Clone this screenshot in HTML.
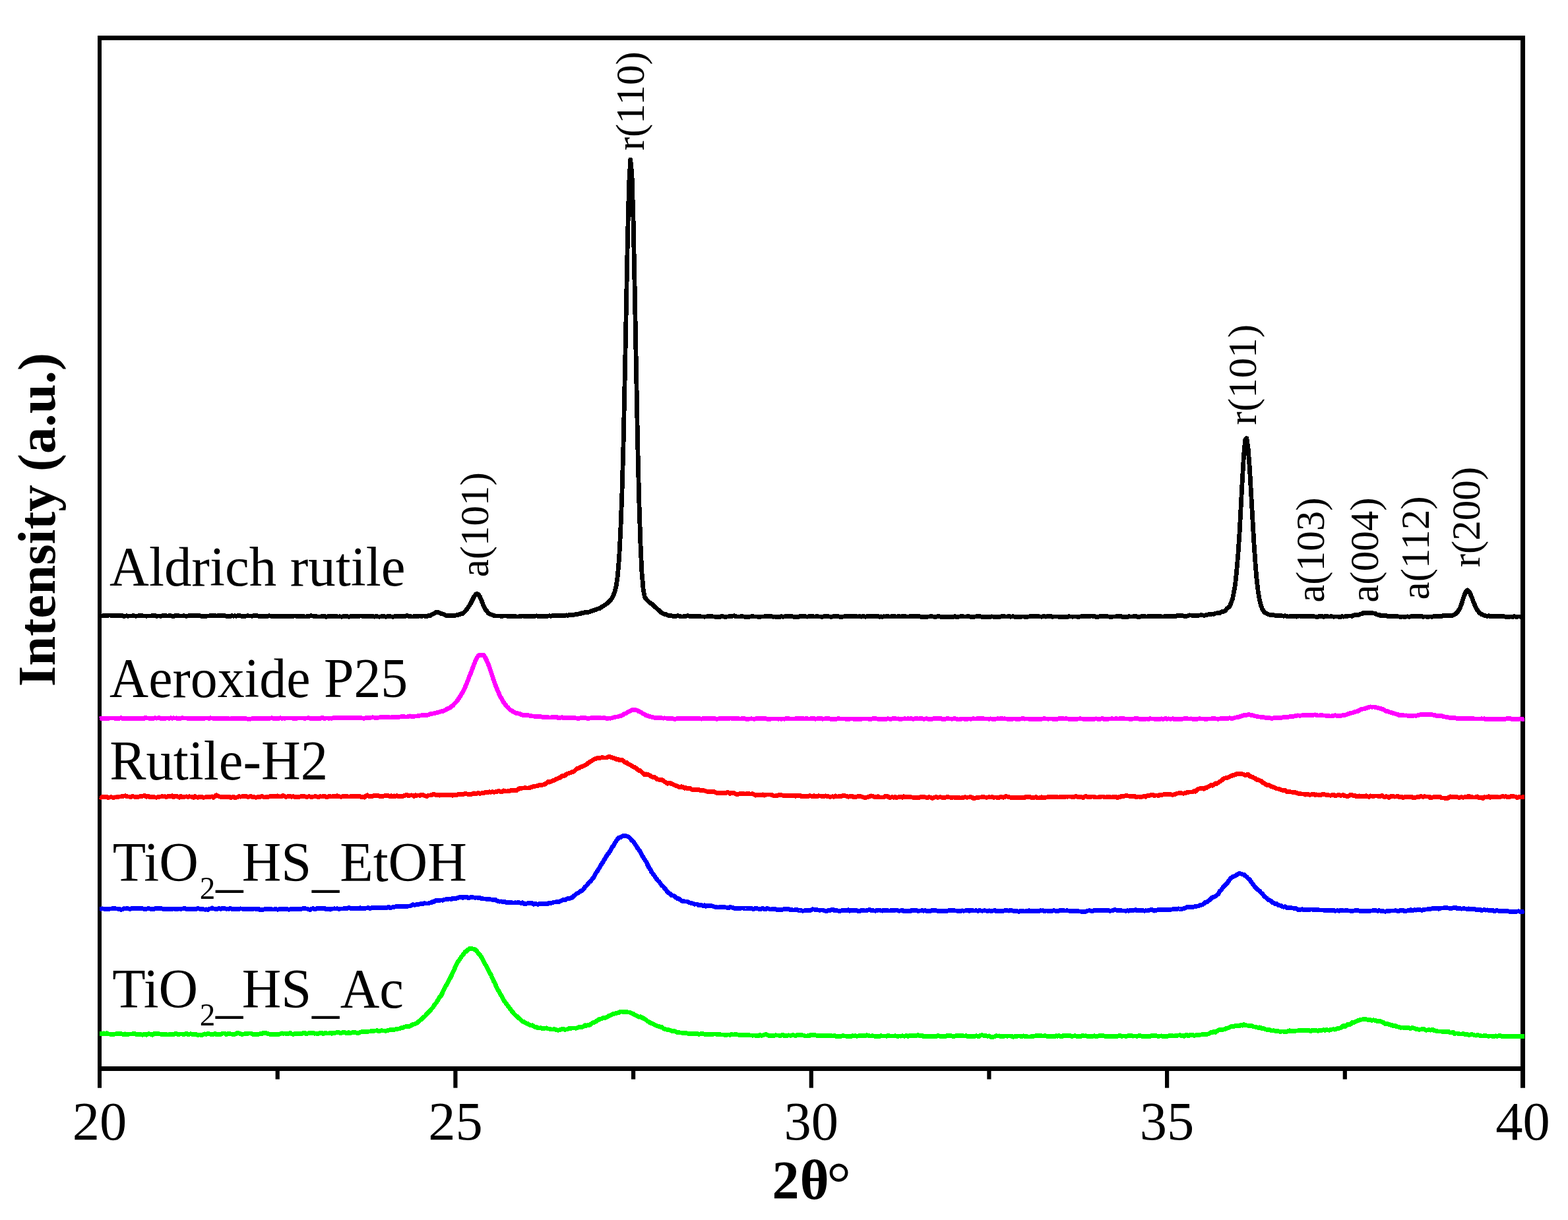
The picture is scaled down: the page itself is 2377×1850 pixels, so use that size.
<!DOCTYPE html>
<html lang="en"><head><meta charset="utf-8"><title>XRD patterns</title>
<style>
html,body{margin:0;padding:0;background:#fff;}
body{width:2377px;height:1850px;overflow:hidden;}
svg{display:block;}
text{font-family:"Liberation Serif",serif;fill:#000;}
.lab{font-size:84px;}
.tick{font-size:82.5px;text-anchor:middle;}
.pk{font-size:61px;}
.ax{font-weight:bold;}
</style></head><body>
<svg width="2377" height="1850" viewBox="0 0 2377 1850">
<rect width="2377" height="1850" fill="#fff"/>
<g stroke="#000" fill="none" stroke-linecap="butt">
<line x1="151" y1="54" x2="151" y2="1649.7" stroke-width="6"/>
<line x1="2308.5" y1="54" x2="2308.5" y2="1649.7" stroke-width="7"/>
<line x1="148" y1="57.5" x2="2312" y2="57.5" stroke-width="7"/>
<line x1="148" y1="1620.5" x2="2312" y2="1620.5" stroke-width="7"/>
<line x1="690.4" y1="1620.5" x2="690.4" y2="1649.7" stroke-width="6.2"/>
<line x1="1229.8" y1="1620.5" x2="1229.8" y2="1649.7" stroke-width="6.2"/>
<line x1="1769.1" y1="1620.5" x2="1769.1" y2="1649.7" stroke-width="6.2"/>
<line x1="420.7" y1="1620.5" x2="420.7" y2="1636.6" stroke-width="6.2"/>
<line x1="960.1" y1="1620.5" x2="960.1" y2="1636.6" stroke-width="6.2"/>
<line x1="1499.4" y1="1620.5" x2="1499.4" y2="1636.6" stroke-width="6.2"/>
<line x1="2038.8" y1="1620.5" x2="2038.8" y2="1636.6" stroke-width="6.2"/>
</g>
<g fill="none" stroke-width="6.8" stroke-linejoin="round" stroke-linecap="butt" shape-rendering="crispEdges" transform="scale(1.00,1)">
<path stroke="#00ff00" d="M151.0,1567.5 L153.2,1567.2 L155.3,1568.0 L157.5,1566.9 L159.6,1567.5 L161.8,1566.7 L163.9,1568.0 L166.1,1568.1 L168.3,1568.8 L170.4,1568.1 L172.6,1568.3 L174.7,1568.0 L176.9,1567.7 L179.0,1568.0 L181.2,1567.4 L183.4,1567.6 L185.5,1568.2 L187.7,1568.2 L189.8,1567.9 L192.0,1569.1 L194.2,1568.6 L196.3,1568.0 L198.5,1568.1 L200.6,1567.9 L202.8,1567.8 L204.9,1567.8 L207.1,1569.0 L209.3,1568.5 L211.4,1568.4 L213.6,1568.5 L215.7,1569.3 L217.9,1568.5 L220.0,1568.0 L222.2,1569.3 L224.4,1567.9 L226.5,1567.8 L228.7,1568.3 L230.8,1569.3 L233.0,1568.2 L235.1,1566.9 L237.3,1567.9 L239.5,1567.8 L241.6,1567.8 L243.8,1568.2 L245.9,1568.2 L248.1,1568.3 L250.2,1568.0 L252.4,1568.7 L254.6,1569.1 L256.7,1568.6 L258.9,1568.1 L261.0,1568.5 L263.2,1568.5 L265.3,1567.8 L267.5,1567.7 L269.7,1568.4 L271.8,1568.2 L274.0,1568.0 L276.1,1568.1 L278.3,1568.1 L280.5,1568.1 L282.6,1567.1 L284.8,1568.5 L286.9,1568.4 L289.1,1567.8 L291.2,1568.4 L293.4,1568.4 L295.6,1568.2 L297.7,1568.7 L299.9,1569.4 L302.0,1569.0 L304.2,1569.2 L306.3,1569.7 L308.5,1568.3 L310.7,1567.9 L312.8,1568.4 L315.0,1567.3 L317.1,1567.6 L319.3,1568.5 L321.4,1568.7 L323.6,1568.6 L325.8,1567.4 L327.9,1568.9 L330.1,1568.7 L332.2,1568.7 L334.4,1568.6 L336.5,1567.4 L338.7,1567.0 L340.9,1567.0 L343.0,1568.5 L345.2,1567.8 L347.3,1567.8 L349.5,1567.8 L351.6,1568.2 L353.8,1568.3 L356.0,1568.2 L358.1,1567.5 L360.3,1566.2 L362.4,1567.2 L364.6,1567.7 L366.8,1568.4 L368.9,1568.1 L371.1,1567.7 L373.2,1568.0 L375.4,1567.2 L377.5,1567.0 L379.7,1567.0 L381.9,1567.6 L384.0,1568.8 L386.2,1568.6 L388.3,1568.7 L390.5,1568.3 L392.6,1568.2 L394.8,1567.7 L397.0,1567.6 L399.1,1566.5 L401.3,1566.6 L403.4,1566.6 L405.6,1567.6 L407.7,1568.0 L409.9,1568.4 L412.1,1568.8 L414.2,1568.0 L416.4,1568.3 L418.5,1568.9 L420.7,1568.2 L422.8,1568.4 L425.0,1567.9 L427.2,1566.9 L429.3,1567.3 L431.5,1567.0 L433.6,1567.4 L435.8,1567.2 L437.9,1567.5 L440.1,1566.4 L442.3,1568.0 L444.4,1568.4 L446.6,1567.7 L448.7,1567.1 L450.9,1567.2 L453.1,1567.6 L455.2,1567.7 L457.4,1567.6 L459.5,1566.5 L461.7,1566.3 L463.8,1567.5 L466.0,1567.4 L468.2,1566.5 L470.3,1566.4 L472.5,1566.1 L474.6,1566.1 L476.8,1567.2 L478.9,1567.0 L481.1,1567.5 L483.3,1567.3 L485.4,1566.3 L487.6,1566.3 L489.7,1567.7 L491.9,1566.8 L494.0,1566.2 L496.2,1567.1 L498.4,1566.9 L500.5,1566.7 L502.7,1567.3 L504.8,1566.0 L507.0,1566.4 L509.1,1565.9 L511.3,1565.4 L513.5,1565.5 L515.6,1566.5 L517.8,1566.2 L519.9,1565.2 L522.1,1565.1 L524.2,1566.3 L526.4,1566.6 L528.6,1565.6 L530.7,1566.9 L532.9,1566.0 L535.0,1565.2 L537.2,1565.3 L539.4,1565.8 L541.5,1566.4 L543.7,1566.3 L545.8,1565.4 L548.0,1564.9 L550.1,1564.2 L552.3,1564.5 L554.5,1564.3 L556.6,1564.6 L558.8,1563.9 L560.9,1563.9 L563.1,1563.6 L565.2,1563.3 L567.4,1563.1 L569.6,1563.0 L571.7,1562.7 L573.9,1563.4 L576.0,1563.4 L578.2,1562.6 L580.3,1563.0 L582.5,1563.0 L584.7,1563.5 L586.8,1562.7 L589.0,1562.2 L591.1,1561.6 L593.3,1561.6 L595.4,1561.6 L597.6,1561.3 L599.8,1560.7 L601.9,1560.6 L604.1,1560.1 L606.2,1559.7 L608.4,1558.7 L610.5,1558.5 L612.7,1557.5 L614.9,1556.8 L617.0,1556.5 L619.2,1557.0 L621.3,1556.2 L623.5,1554.8 L625.7,1553.6 L627.8,1553.0 L630.0,1552.3 L632.1,1551.2 L634.3,1549.2 L636.4,1547.6 L638.6,1545.8 L640.8,1544.0 L642.9,1541.8 L645.1,1540.0 L647.2,1537.1 L649.4,1534.9 L651.5,1533.3 L653.7,1530.5 L655.9,1528.3 L658.0,1524.8 L660.2,1521.9 L662.3,1519.2 L664.5,1515.3 L666.6,1511.7 L668.8,1509.6 L671.0,1504.9 L673.1,1500.5 L675.3,1496.3 L677.4,1492.4 L679.6,1488.2 L681.7,1484.5 L683.9,1480.3 L686.1,1475.4 L688.2,1470.9 L690.4,1466.0 L692.5,1461.5 L694.7,1457.8 L696.8,1454.9 L699.0,1451.5 L701.2,1448.6 L703.3,1446.0 L705.5,1443.2 L707.6,1442.2 L709.8,1439.8 L712.0,1438.4 L714.1,1437.9 L716.3,1438.8 L718.4,1439.3 L720.6,1440.1 L722.7,1442.3 L724.9,1445.2 L727.1,1447.5 L729.2,1450.4 L731.4,1454.5 L733.5,1458.5 L735.7,1462.5 L737.8,1465.9 L740.0,1470.4 L742.2,1474.9 L744.3,1478.3 L746.5,1483.8 L748.6,1488.1 L750.8,1492.2 L752.9,1497.7 L755.1,1501.4 L757.3,1504.8 L759.4,1508.8 L761.6,1512.9 L763.7,1516.8 L765.9,1520.0 L768.0,1522.8 L770.2,1525.7 L772.4,1528.6 L774.5,1531.2 L776.7,1534.2 L778.8,1536.6 L781.0,1539.1 L783.1,1540.9 L785.3,1542.7 L787.5,1544.7 L789.6,1546.4 L791.8,1548.7 L793.9,1549.4 L796.1,1550.9 L798.3,1552.1 L800.4,1552.5 L802.6,1554.2 L804.7,1555.1 L806.9,1554.8 L809.0,1556.3 L811.2,1557.5 L813.4,1557.4 L815.5,1558.9 L817.7,1559.0 L819.8,1558.6 L822.0,1559.5 L824.1,1559.6 L826.3,1559.2 L828.5,1558.8 L830.6,1559.9 L832.8,1560.0 L834.9,1560.8 L837.1,1561.1 L839.2,1560.8 L841.4,1560.7 L843.6,1561.8 L845.7,1562.2 L847.9,1561.9 L850.0,1561.2 L852.2,1560.5 L854.3,1560.4 L856.5,1561.3 L858.7,1561.0 L860.8,1560.4 L863.0,1559.5 L865.1,1559.7 L867.3,1559.0 L869.4,1559.0 L871.6,1559.1 L873.8,1559.1 L875.9,1558.4 L878.1,1557.5 L880.2,1557.1 L882.4,1557.4 L884.6,1556.5 L886.7,1554.8 L888.9,1555.2 L891.0,1554.3 L893.2,1555.0 L895.3,1553.0 L897.5,1551.7 L899.7,1550.6 L901.8,1549.9 L904.0,1548.6 L906.1,1547.1 L908.3,1545.6 L910.4,1545.3 L912.6,1544.4 L914.8,1543.4 L916.9,1543.8 L919.1,1542.7 L921.2,1541.9 L923.4,1540.2 L925.5,1539.4 L927.7,1538.3 L929.9,1537.4 L932.0,1537.1 L934.2,1536.6 L936.3,1536.0 L938.5,1535.4 L940.6,1534.2 L942.8,1534.0 L945.0,1534.4 L947.1,1534.3 L949.3,1534.2 L951.4,1535.0 L953.6,1535.0 L955.7,1535.5 L957.9,1536.9 L960.1,1537.4 L962.2,1539.0 L964.4,1539.8 L966.5,1540.9 L968.7,1542.2 L970.9,1541.7 L973.0,1543.2 L975.2,1543.9 L977.3,1545.3 L979.5,1546.7 L981.6,1548.7 L983.8,1549.6 L986.0,1551.4 L988.1,1551.8 L990.3,1552.7 L992.4,1553.8 L994.6,1555.2 L996.7,1555.9 L998.9,1556.4 L1001.1,1557.3 L1003.2,1557.5 L1005.4,1559.4 L1007.5,1560.4 L1009.7,1561.0 L1011.8,1561.6 L1014.0,1561.7 L1016.2,1562.2 L1018.3,1563.3 L1020.5,1563.2 L1022.6,1563.4 L1024.8,1564.9 L1026.9,1565.8 L1029.1,1565.7 L1031.3,1566.0 L1033.4,1566.1 L1035.6,1566.9 L1037.7,1566.5 L1039.9,1566.6 L1042.0,1567.0 L1044.2,1567.8 L1046.4,1567.4 L1048.5,1567.5 L1050.7,1567.3 L1052.8,1567.2 L1055.0,1567.2 L1057.2,1567.6 L1059.3,1568.3 L1061.5,1567.8 L1063.6,1567.7 L1065.8,1567.8 L1067.9,1568.3 L1070.1,1568.7 L1072.3,1568.0 L1074.4,1568.5 L1076.6,1568.1 L1078.7,1568.7 L1080.9,1568.3 L1083.0,1568.0 L1085.2,1568.1 L1087.4,1568.5 L1089.5,1568.2 L1091.7,1568.7 L1093.8,1569.0 L1096.0,1569.0 L1098.1,1569.2 L1100.3,1569.6 L1102.5,1569.0 L1104.6,1569.1 L1106.8,1569.2 L1108.9,1568.2 L1111.1,1569.0 L1113.2,1568.8 L1115.4,1568.8 L1117.6,1568.9 L1119.7,1569.2 L1121.9,1569.5 L1124.0,1569.7 L1126.2,1569.3 L1128.3,1569.8 L1130.5,1569.9 L1132.7,1569.5 L1134.8,1569.6 L1137.0,1570.0 L1139.1,1570.0 L1141.3,1570.2 L1143.5,1570.0 L1145.6,1570.4 L1147.8,1571.1 L1149.9,1570.6 L1152.1,1569.4 L1154.2,1570.5 L1156.4,1569.8 L1158.6,1569.2 L1160.7,1568.4 L1162.9,1569.4 L1165.0,1570.2 L1167.2,1570.6 L1169.3,1570.0 L1171.5,1570.7 L1173.7,1570.3 L1175.8,1569.8 L1178.0,1570.0 L1180.1,1570.1 L1182.3,1570.1 L1184.4,1570.3 L1186.6,1569.1 L1188.8,1570.4 L1190.9,1570.0 L1193.1,1570.4 L1195.2,1569.9 L1197.4,1570.1 L1199.5,1570.1 L1201.7,1569.4 L1203.9,1570.0 L1206.0,1570.5 L1208.2,1569.8 L1210.3,1569.0 L1212.5,1569.4 L1214.6,1569.5 L1216.8,1570.0 L1219.0,1570.2 L1221.1,1571.0 L1223.3,1571.0 L1225.4,1570.5 L1227.6,1570.5 L1229.8,1569.0 L1231.9,1569.3 L1234.1,1569.5 L1236.2,1569.9 L1238.4,1570.4 L1240.5,1570.5 L1242.7,1570.9 L1244.9,1570.3 L1247.0,1570.6 L1249.2,1570.5 L1251.3,1570.5 L1253.5,1570.7 L1255.6,1570.4 L1257.8,1570.6 L1260.0,1570.6 L1262.1,1571.1 L1264.3,1570.7 L1266.4,1570.8 L1268.6,1572.0 L1270.7,1571.5 L1272.9,1571.3 L1275.1,1571.4 L1277.2,1570.5 L1279.4,1570.9 L1281.5,1571.1 L1283.7,1571.1 L1285.8,1571.3 L1288.0,1571.4 L1290.2,1571.6 L1292.3,1570.8 L1294.5,1571.0 L1296.6,1570.6 L1298.8,1571.3 L1300.9,1571.0 L1303.1,1570.2 L1305.3,1570.6 L1307.4,1570.2 L1309.6,1571.0 L1311.7,1570.7 L1313.9,1569.7 L1316.1,1570.1 L1318.2,1571.0 L1320.4,1571.1 L1322.5,1570.6 L1324.7,1571.1 L1326.8,1571.2 L1329.0,1571.7 L1331.2,1571.7 L1333.3,1571.4 L1335.5,1570.7 L1337.6,1571.0 L1339.8,1571.1 L1341.9,1571.0 L1344.1,1571.2 L1346.3,1570.4 L1348.4,1571.0 L1350.6,1571.0 L1352.7,1571.1 L1354.9,1571.0 L1357.0,1570.8 L1359.2,1571.0 L1361.4,1571.4 L1363.5,1571.0 L1365.7,1571.2 L1367.8,1570.7 L1370.0,1571.1 L1372.1,1571.1 L1374.3,1570.4 L1376.5,1571.3 L1378.6,1570.7 L1380.8,1570.9 L1382.9,1570.4 L1385.1,1569.9 L1387.2,1570.9 L1389.4,1570.3 L1391.6,1569.7 L1393.7,1570.4 L1395.9,1570.0 L1398.0,1570.5 L1400.2,1571.7 L1402.4,1571.2 L1404.5,1571.3 L1406.7,1571.5 L1408.8,1571.4 L1411.0,1571.2 L1413.1,1571.9 L1415.3,1571.4 L1417.5,1571.4 L1419.6,1571.3 L1421.8,1570.6 L1423.9,1571.1 L1426.1,1571.1 L1428.2,1571.5 L1430.4,1571.6 L1432.6,1572.1 L1434.7,1570.7 L1436.9,1570.7 L1439.0,1570.7 L1441.2,1570.5 L1443.3,1571.1 L1445.5,1571.1 L1447.7,1571.2 L1449.8,1570.4 L1452.0,1570.4 L1454.1,1570.8 L1456.3,1570.8 L1458.4,1570.7 L1460.6,1570.9 L1462.8,1570.9 L1464.9,1570.6 L1467.1,1571.7 L1469.2,1571.1 L1471.4,1571.5 L1473.5,1571.6 L1475.7,1571.9 L1477.9,1571.2 L1480.0,1570.8 L1482.2,1571.2 L1484.3,1571.4 L1486.5,1570.1 L1488.7,1569.5 L1490.8,1570.2 L1493.0,1570.6 L1495.1,1570.8 L1497.3,1571.3 L1499.4,1570.8 L1501.6,1572.3 L1503.8,1572.2 L1505.9,1572.3 L1508.1,1571.9 L1510.2,1570.5 L1512.4,1571.1 L1514.5,1570.9 L1516.7,1571.3 L1518.9,1571.2 L1521.0,1571.6 L1523.2,1571.0 L1525.3,1571.0 L1527.5,1571.2 L1529.6,1570.9 L1531.8,1570.9 L1534.0,1571.4 L1536.1,1572.3 L1538.3,1571.6 L1540.4,1571.9 L1542.6,1571.0 L1544.7,1570.9 L1546.9,1571.3 L1549.1,1571.6 L1551.2,1570.9 L1553.4,1571.4 L1555.5,1571.4 L1557.7,1572.0 L1559.8,1572.1 L1562.0,1571.9 L1564.2,1571.4 L1566.3,1571.5 L1568.5,1571.0 L1570.6,1570.8 L1572.8,1570.2 L1575.0,1570.2 L1577.1,1570.2 L1579.3,1570.8 L1581.4,1571.1 L1583.6,1570.6 L1585.7,1571.0 L1587.9,1571.4 L1590.1,1571.8 L1592.2,1571.5 L1594.4,1571.5 L1596.5,1571.2 L1598.7,1571.7 L1600.8,1570.8 L1603.0,1571.2 L1605.2,1570.2 L1607.3,1571.6 L1609.5,1571.9 L1611.6,1570.6 L1613.8,1570.8 L1615.9,1570.4 L1618.1,1570.1 L1620.3,1570.6 L1622.4,1570.6 L1624.6,1571.5 L1626.7,1571.2 L1628.9,1570.7 L1631.0,1571.0 L1633.2,1571.4 L1635.4,1571.8 L1637.5,1571.8 L1639.7,1570.8 L1641.8,1570.7 L1644.0,1571.0 L1646.1,1570.8 L1648.3,1571.4 L1650.5,1571.2 L1652.6,1571.3 L1654.8,1571.1 L1656.9,1571.3 L1659.1,1570.6 L1661.3,1572.0 L1663.4,1571.4 L1665.6,1571.0 L1667.7,1570.3 L1669.9,1570.8 L1672.0,1570.4 L1674.2,1571.1 L1676.4,1571.8 L1678.5,1571.8 L1680.7,1571.3 L1682.8,1571.9 L1685.0,1571.5 L1687.1,1571.4 L1689.3,1571.4 L1691.5,1571.1 L1693.6,1571.4 L1695.8,1570.8 L1697.9,1570.2 L1700.1,1571.4 L1702.2,1571.0 L1704.4,1571.0 L1706.6,1571.3 L1708.7,1571.1 L1710.9,1570.6 L1713.0,1570.9 L1715.2,1570.6 L1717.3,1571.2 L1719.5,1571.0 L1721.7,1571.0 L1723.8,1571.5 L1726.0,1570.6 L1728.1,1570.2 L1730.3,1571.1 L1732.4,1571.8 L1734.6,1571.5 L1736.8,1571.0 L1738.9,1571.7 L1741.1,1571.6 L1743.2,1571.9 L1745.4,1570.6 L1747.6,1570.8 L1749.7,1570.5 L1751.9,1570.3 L1754.0,1571.0 L1756.2,1571.4 L1758.3,1571.0 L1760.5,1570.9 L1762.7,1571.6 L1764.8,1571.6 L1767.0,1571.2 L1769.1,1571.3 L1771.3,1571.1 L1773.4,1570.4 L1775.6,1570.4 L1777.8,1570.8 L1779.9,1571.1 L1782.1,1570.3 L1784.2,1570.1 L1786.4,1570.1 L1788.5,1569.7 L1790.7,1570.7 L1792.9,1570.8 L1795.0,1571.2 L1797.2,1569.7 L1799.3,1569.6 L1801.5,1570.8 L1803.6,1569.7 L1805.8,1568.9 L1808.0,1569.5 L1810.1,1570.3 L1812.3,1570.1 L1814.4,1569.2 L1816.6,1569.3 L1818.7,1569.2 L1820.9,1568.9 L1823.1,1568.7 L1825.2,1568.6 L1827.4,1568.6 L1829.5,1568.4 L1831.7,1568.0 L1833.9,1567.0 L1836.0,1565.4 L1838.2,1565.6 L1840.3,1564.4 L1842.5,1565.3 L1844.6,1563.8 L1846.8,1562.4 L1849.0,1561.4 L1851.1,1561.7 L1853.3,1561.4 L1855.4,1561.0 L1857.6,1560.3 L1859.7,1559.1 L1861.9,1558.9 L1864.1,1557.8 L1866.2,1556.6 L1868.4,1556.9 L1870.5,1556.6 L1872.7,1555.5 L1874.8,1555.1 L1877.0,1555.4 L1879.2,1555.4 L1881.3,1554.4 L1883.5,1555.1 L1885.6,1553.6 L1887.8,1554.4 L1889.9,1555.0 L1892.1,1555.2 L1894.3,1555.7 L1896.4,1555.3 L1898.6,1556.1 L1900.7,1557.0 L1902.9,1557.1 L1905.0,1557.9 L1907.2,1558.4 L1909.4,1557.9 L1911.5,1558.7 L1913.7,1559.9 L1915.8,1559.7 L1918.0,1560.6 L1920.2,1561.3 L1922.3,1561.1 L1924.5,1561.6 L1926.6,1562.6 L1928.8,1563.1 L1930.9,1562.6 L1933.1,1563.4 L1935.3,1563.5 L1937.4,1563.5 L1939.6,1564.2 L1941.7,1564.2 L1943.9,1564.0 L1946.0,1564.2 L1948.2,1564.2 L1950.4,1564.4 L1952.5,1563.8 L1954.7,1562.7 L1956.8,1563.7 L1959.0,1563.8 L1961.1,1563.7 L1963.3,1563.3 L1965.5,1563.0 L1967.6,1562.9 L1969.8,1562.3 L1971.9,1562.9 L1974.1,1562.7 L1976.2,1562.1 L1978.4,1562.4 L1980.6,1562.2 L1982.7,1562.3 L1984.9,1562.6 L1987.0,1563.7 L1989.2,1562.4 L1991.3,1562.5 L1993.5,1562.7 L1995.7,1562.7 L1997.8,1563.2 L2000.0,1562.5 L2002.1,1562.2 L2004.3,1562.2 L2006.5,1561.5 L2008.6,1562.3 L2010.8,1561.5 L2012.9,1561.9 L2015.1,1562.2 L2017.2,1561.3 L2019.4,1561.0 L2021.6,1560.7 L2023.7,1561.2 L2025.9,1560.5 L2028.0,1558.9 L2030.2,1559.2 L2032.3,1558.9 L2034.5,1556.9 L2036.7,1555.2 L2038.8,1556.6 L2041.0,1555.4 L2043.1,1553.4 L2045.3,1553.4 L2047.4,1553.1 L2049.6,1550.6 L2051.8,1550.7 L2053.9,1550.0 L2056.1,1548.9 L2058.2,1547.6 L2060.4,1547.2 L2062.5,1546.2 L2064.7,1546.0 L2066.9,1545.6 L2069.0,1545.3 L2071.2,1545.7 L2073.3,1546.3 L2075.5,1546.6 L2077.6,1546.7 L2079.8,1547.5 L2082.0,1546.7 L2084.1,1547.3 L2086.3,1547.8 L2088.4,1548.9 L2090.6,1548.0 L2092.8,1548.8 L2094.9,1549.6 L2097.1,1550.5 L2099.2,1552.3 L2101.4,1552.5 L2103.5,1552.7 L2105.7,1553.4 L2107.9,1554.3 L2110.0,1554.4 L2112.2,1555.7 L2114.3,1555.1 L2116.5,1556.4 L2118.6,1556.9 L2120.8,1557.5 L2123.0,1558.3 L2125.1,1558.0 L2127.3,1558.3 L2129.4,1558.6 L2131.6,1558.5 L2133.7,1558.5 L2135.9,1558.6 L2138.1,1559.6 L2140.2,1558.6 L2142.4,1558.8 L2144.5,1559.6 L2146.7,1560.7 L2148.8,1560.6 L2151.0,1561.3 L2153.2,1561.0 L2155.3,1560.8 L2157.5,1560.3 L2159.6,1561.0 L2161.8,1562.2 L2163.9,1562.0 L2166.1,1561.5 L2168.3,1562.2 L2170.4,1561.7 L2172.6,1561.7 L2174.7,1562.9 L2176.9,1563.3 L2179.1,1563.9 L2181.2,1563.9 L2183.4,1563.9 L2185.5,1564.2 L2187.7,1564.3 L2189.8,1565.1 L2192.0,1564.6 L2194.2,1564.2 L2196.3,1564.6 L2198.5,1565.9 L2200.6,1565.9 L2202.8,1565.2 L2204.9,1567.5 L2207.1,1566.9 L2209.3,1567.1 L2211.4,1567.7 L2213.6,1568.0 L2215.7,1568.0 L2217.9,1567.5 L2220.0,1568.4 L2222.2,1568.1 L2224.4,1568.5 L2226.5,1569.3 L2228.7,1569.2 L2230.8,1568.5 L2233.0,1568.9 L2235.1,1569.7 L2237.3,1570.2 L2239.5,1569.5 L2241.6,1569.9 L2243.8,1570.3 L2245.9,1570.9 L2248.1,1570.9 L2250.2,1570.8 L2252.4,1570.6 L2254.6,1571.0 L2256.7,1571.3 L2258.9,1571.0 L2261.0,1570.9 L2263.2,1571.8 L2265.4,1571.4 L2267.5,1570.9 L2269.7,1571.4 L2271.8,1570.7 L2274.0,1570.5 L2276.1,1571.4 L2278.3,1571.4 L2280.5,1571.8 L2282.6,1572.0 L2284.8,1571.3 L2286.9,1571.7 L2289.1,1571.4 L2291.2,1571.6 L2293.4,1571.7 L2295.6,1571.6 L2297.7,1571.0 L2299.9,1571.5 L2302.0,1571.6 L2304.2,1571.9 L2306.3,1571.3 L2308.5,1571.6 L2310.7,1571.6"/>
<path stroke="#0000ff" d="M151.0,1378.0 L153.2,1378.2 L155.3,1377.9 L157.5,1378.1 L159.6,1378.5 L161.8,1378.4 L163.9,1379.0 L166.1,1378.0 L168.3,1378.1 L170.4,1377.7 L172.6,1377.5 L174.7,1377.7 L176.9,1378.0 L179.0,1378.2 L181.2,1378.4 L183.4,1379.3 L185.5,1379.0 L187.7,1377.7 L189.8,1378.0 L192.0,1377.7 L194.2,1377.7 L196.3,1378.5 L198.5,1378.2 L200.6,1377.2 L202.8,1377.8 L204.9,1377.8 L207.1,1377.4 L209.3,1377.3 L211.4,1377.4 L213.6,1377.8 L215.7,1377.8 L217.9,1378.0 L220.0,1379.0 L222.2,1378.1 L224.4,1377.7 L226.5,1377.8 L228.7,1378.5 L230.8,1378.0 L233.0,1378.8 L235.1,1377.8 L237.3,1377.5 L239.5,1377.8 L241.6,1377.6 L243.8,1377.6 L245.9,1378.1 L248.1,1378.5 L250.2,1378.4 L252.4,1378.1 L254.6,1378.8 L256.7,1378.6 L258.9,1378.3 L261.0,1378.8 L263.2,1378.0 L265.3,1378.2 L267.5,1378.5 L269.7,1378.3 L271.8,1378.0 L274.0,1378.3 L276.1,1378.0 L278.3,1377.8 L280.5,1377.5 L282.6,1378.5 L284.8,1378.1 L286.9,1378.7 L289.1,1378.6 L291.2,1378.3 L293.4,1378.6 L295.6,1378.5 L297.7,1378.4 L299.9,1377.6 L302.0,1378.0 L304.2,1378.5 L306.3,1378.6 L308.5,1378.9 L310.7,1379.2 L312.8,1378.9 L315.0,1379.5 L317.1,1378.0 L319.3,1378.0 L321.4,1376.9 L323.6,1378.0 L325.8,1378.2 L327.9,1379.0 L330.1,1378.4 L332.2,1377.3 L334.4,1378.4 L336.5,1377.7 L338.7,1377.4 L340.9,1377.8 L343.0,1378.3 L345.2,1378.0 L347.3,1378.2 L349.5,1377.3 L351.6,1378.7 L353.8,1378.4 L356.0,1378.4 L358.1,1378.6 L360.3,1378.5 L362.4,1378.4 L364.6,1377.9 L366.8,1378.0 L368.9,1378.4 L371.1,1378.8 L373.2,1378.4 L375.4,1378.4 L377.5,1378.5 L379.7,1378.6 L381.9,1378.5 L384.0,1378.2 L386.2,1378.0 L388.3,1378.7 L390.5,1378.6 L392.6,1378.4 L394.8,1380.0 L397.0,1379.5 L399.1,1379.2 L401.3,1378.7 L403.4,1378.0 L405.6,1378.7 L407.7,1378.4 L409.9,1378.3 L412.1,1378.8 L414.2,1379.0 L416.4,1378.7 L418.5,1378.4 L420.7,1379.3 L422.8,1379.0 L425.0,1378.0 L427.2,1378.5 L429.3,1378.4 L431.5,1378.3 L433.6,1378.6 L435.8,1378.5 L437.9,1379.3 L440.1,1378.8 L442.3,1378.6 L444.4,1378.9 L446.6,1378.2 L448.7,1378.7 L450.9,1378.3 L453.1,1378.8 L455.2,1378.0 L457.4,1378.3 L459.5,1377.4 L461.7,1377.6 L463.8,1377.9 L466.0,1378.2 L468.2,1379.1 L470.3,1379.4 L472.5,1378.0 L474.6,1377.7 L476.8,1378.5 L478.9,1378.4 L481.1,1377.5 L483.3,1378.0 L485.4,1377.5 L487.6,1377.3 L489.7,1377.1 L491.9,1377.4 L494.0,1378.8 L496.2,1378.5 L498.4,1378.1 L500.5,1379.2 L502.7,1378.3 L504.8,1378.0 L507.0,1377.8 L509.1,1378.0 L511.3,1377.8 L513.5,1378.5 L515.6,1378.0 L517.8,1378.1 L519.9,1378.0 L522.1,1377.4 L524.2,1377.1 L526.4,1377.4 L528.6,1376.4 L530.7,1377.1 L532.9,1377.4 L535.0,1377.6 L537.2,1377.5 L539.4,1377.7 L541.5,1377.4 L543.7,1377.7 L545.8,1376.7 L548.0,1377.5 L550.1,1377.0 L552.3,1377.4 L554.5,1377.1 L556.6,1376.9 L558.8,1376.6 L560.9,1377.5 L563.1,1376.7 L565.2,1376.2 L567.4,1376.7 L569.6,1376.9 L571.7,1376.8 L573.9,1376.2 L576.0,1376.1 L578.2,1376.7 L580.3,1376.0 L582.5,1376.4 L584.7,1376.6 L586.8,1376.4 L589.0,1375.5 L591.1,1376.6 L593.3,1376.1 L595.4,1375.8 L597.6,1375.4 L599.8,1374.8 L601.9,1374.8 L604.1,1374.9 L606.2,1374.3 L608.4,1374.4 L610.5,1374.8 L612.7,1374.6 L614.9,1374.1 L617.0,1374.3 L619.2,1374.1 L621.3,1373.9 L623.5,1372.9 L625.7,1371.7 L627.8,1372.3 L630.0,1372.1 L632.1,1371.6 L634.3,1371.6 L636.4,1370.9 L638.6,1370.4 L640.8,1371.1 L642.9,1369.6 L645.1,1369.9 L647.2,1369.9 L649.4,1370.0 L651.5,1369.2 L653.7,1368.7 L655.9,1367.5 L658.0,1367.2 L660.2,1365.8 L662.3,1365.7 L664.5,1365.7 L666.6,1365.5 L668.8,1364.9 L671.0,1365.3 L673.1,1363.9 L675.3,1363.9 L677.4,1363.4 L679.6,1363.2 L681.7,1363.0 L683.9,1363.6 L686.1,1362.2 L688.2,1362.7 L690.4,1362.7 L692.5,1361.9 L694.7,1361.2 L696.8,1360.5 L699.0,1360.3 L701.2,1361.5 L703.3,1360.0 L705.5,1360.6 L707.6,1360.3 L709.8,1361.5 L712.0,1361.3 L714.1,1360.4 L716.3,1360.5 L718.4,1361.0 L720.6,1361.3 L722.7,1361.0 L724.9,1361.4 L727.1,1361.6 L729.2,1362.3 L731.4,1362.7 L733.5,1363.0 L735.7,1362.9 L737.8,1363.7 L740.0,1363.6 L742.2,1363.6 L744.3,1364.0 L746.5,1364.4 L748.6,1364.8 L750.8,1364.3 L752.9,1365.9 L755.1,1366.5 L757.3,1367.2 L759.4,1366.9 L761.6,1367.5 L763.7,1367.6 L765.9,1367.8 L768.0,1368.9 L770.2,1368.3 L772.4,1368.8 L774.5,1368.0 L776.7,1368.9 L778.8,1369.0 L781.0,1368.8 L783.1,1369.0 L785.3,1368.4 L787.5,1368.8 L789.6,1369.6 L791.8,1368.7 L793.9,1370.1 L796.1,1370.8 L798.3,1370.3 L800.4,1369.7 L802.6,1369.5 L804.7,1369.5 L806.9,1369.8 L809.0,1371.3 L811.2,1370.4 L813.4,1370.9 L815.5,1371.3 L817.7,1370.3 L819.8,1370.2 L822.0,1370.5 L824.1,1369.9 L826.3,1370.5 L828.5,1371.1 L830.6,1370.2 L832.8,1369.2 L834.9,1369.3 L837.1,1369.1 L839.2,1368.2 L841.4,1368.0 L843.6,1367.7 L845.7,1367.5 L847.9,1367.5 L850.0,1366.3 L852.2,1365.1 L854.3,1364.0 L856.5,1364.8 L858.7,1363.5 L860.8,1362.5 L863.0,1362.9 L865.1,1361.8 L867.3,1361.3 L869.4,1359.1 L871.6,1357.2 L873.8,1355.5 L875.9,1354.5 L878.1,1353.0 L880.2,1351.3 L882.4,1350.4 L884.6,1348.4 L886.7,1345.1 L888.9,1343.0 L891.0,1340.8 L893.2,1337.7 L895.3,1336.3 L897.5,1333.4 L899.7,1330.7 L901.8,1326.8 L904.0,1322.9 L906.1,1320.2 L908.3,1316.6 L910.4,1312.9 L912.6,1309.4 L914.8,1306.0 L916.9,1302.4 L919.1,1298.6 L921.2,1295.2 L923.4,1293.0 L925.5,1289.2 L927.7,1284.9 L929.9,1282.5 L932.0,1278.7 L934.2,1275.1 L936.3,1272.4 L938.5,1270.0 L940.6,1269.8 L942.8,1268.2 L945.0,1267.1 L947.1,1267.2 L949.3,1267.8 L951.4,1268.3 L953.6,1269.7 L955.7,1271.7 L957.9,1274.3 L960.1,1276.2 L962.2,1279.4 L964.4,1282.5 L966.5,1286.0 L968.7,1288.9 L970.9,1291.9 L973.0,1296.4 L975.2,1300.3 L977.3,1303.4 L979.5,1306.8 L981.6,1311.1 L983.8,1315.6 L986.0,1318.8 L988.1,1323.1 L990.3,1325.7 L992.4,1328.7 L994.6,1331.7 L996.7,1334.9 L998.9,1336.6 L1001.1,1339.6 L1003.2,1342.9 L1005.4,1344.2 L1007.5,1346.9 L1009.7,1349.5 L1011.8,1352.2 L1014.0,1354.3 L1016.2,1355.4 L1018.3,1357.8 L1020.5,1358.1 L1022.6,1358.8 L1024.8,1361.2 L1026.9,1362.5 L1029.1,1362.8 L1031.3,1364.6 L1033.4,1365.8 L1035.6,1366.7 L1037.7,1366.9 L1039.9,1367.0 L1042.0,1367.2 L1044.2,1368.3 L1046.4,1369.2 L1048.5,1369.7 L1050.7,1370.1 L1052.8,1371.3 L1055.0,1371.0 L1057.2,1371.3 L1059.3,1372.9 L1061.5,1372.5 L1063.6,1372.5 L1065.8,1373.5 L1067.9,1372.7 L1070.1,1374.2 L1072.3,1373.5 L1074.4,1373.6 L1076.6,1373.5 L1078.7,1373.7 L1080.9,1374.0 L1083.0,1375.1 L1085.2,1375.1 L1087.4,1376.0 L1089.5,1376.1 L1091.7,1375.3 L1093.8,1375.6 L1096.0,1375.5 L1098.1,1375.6 L1100.3,1376.0 L1102.5,1376.4 L1104.6,1376.7 L1106.8,1375.6 L1108.9,1376.1 L1111.1,1376.3 L1113.2,1377.5 L1115.4,1377.1 L1117.6,1377.1 L1119.7,1377.2 L1121.9,1377.6 L1124.0,1376.9 L1126.2,1377.1 L1128.3,1377.3 L1130.5,1377.5 L1132.7,1377.5 L1134.8,1377.4 L1137.0,1377.7 L1139.1,1377.1 L1141.3,1378.4 L1143.5,1378.2 L1145.6,1377.2 L1147.8,1377.6 L1149.9,1378.4 L1152.1,1378.2 L1154.2,1378.2 L1156.4,1377.2 L1158.6,1378.6 L1160.7,1378.6 L1162.9,1377.6 L1165.0,1377.9 L1167.2,1379.0 L1169.3,1379.0 L1171.5,1378.1 L1173.7,1378.2 L1175.8,1378.7 L1178.0,1379.8 L1180.1,1379.4 L1182.3,1379.5 L1184.4,1379.1 L1186.6,1379.1 L1188.8,1378.6 L1190.9,1378.2 L1193.1,1378.1 L1195.2,1378.4 L1197.4,1379.5 L1199.5,1379.3 L1201.7,1379.9 L1203.9,1380.0 L1206.0,1379.7 L1208.2,1379.3 L1210.3,1380.4 L1212.5,1380.5 L1214.6,1380.5 L1216.8,1381.2 L1219.0,1381.0 L1221.1,1380.3 L1223.3,1380.1 L1225.4,1380.1 L1227.6,1381.0 L1229.8,1379.8 L1231.9,1378.8 L1234.1,1379.1 L1236.2,1379.5 L1238.4,1379.4 L1240.5,1380.1 L1242.7,1380.2 L1244.9,1380.0 L1247.0,1380.0 L1249.2,1380.9 L1251.3,1381.4 L1253.5,1381.4 L1255.6,1380.5 L1257.8,1380.8 L1260.0,1379.8 L1262.1,1379.0 L1264.3,1380.4 L1266.4,1380.7 L1268.6,1380.7 L1270.7,1381.1 L1272.9,1381.4 L1275.1,1380.9 L1277.2,1380.6 L1279.4,1380.7 L1281.5,1380.9 L1283.7,1380.6 L1285.8,1379.8 L1288.0,1381.3 L1290.2,1380.4 L1292.3,1380.0 L1294.5,1380.5 L1296.6,1380.4 L1298.8,1380.6 L1300.9,1381.7 L1303.1,1381.7 L1305.3,1380.8 L1307.4,1380.7 L1309.6,1380.6 L1311.7,1381.1 L1313.9,1380.3 L1316.1,1380.0 L1318.2,1379.4 L1320.4,1380.3 L1322.5,1380.6 L1324.7,1380.9 L1326.8,1381.2 L1329.0,1380.3 L1331.2,1380.3 L1333.3,1379.9 L1335.5,1380.9 L1337.6,1381.2 L1339.8,1380.2 L1341.9,1380.7 L1344.1,1380.8 L1346.3,1380.8 L1348.4,1381.1 L1350.6,1380.6 L1352.7,1380.5 L1354.9,1380.3 L1357.0,1380.2 L1359.2,1380.0 L1361.4,1381.0 L1363.5,1381.2 L1365.7,1380.9 L1367.8,1380.0 L1370.0,1381.6 L1372.1,1381.2 L1374.3,1381.1 L1376.5,1381.3 L1378.6,1381.9 L1380.8,1381.2 L1382.9,1379.9 L1385.1,1380.3 L1387.2,1380.6 L1389.4,1380.5 L1391.6,1381.5 L1393.7,1381.0 L1395.9,1381.1 L1398.0,1380.6 L1400.2,1381.2 L1402.4,1380.7 L1404.5,1381.3 L1406.7,1381.2 L1408.8,1381.2 L1411.0,1381.2 L1413.1,1380.3 L1415.3,1380.5 L1417.5,1380.9 L1419.6,1380.8 L1421.8,1381.5 L1423.9,1381.7 L1426.1,1381.0 L1428.2,1381.6 L1430.4,1381.2 L1432.6,1381.4 L1434.7,1381.8 L1436.9,1380.9 L1439.0,1380.6 L1441.2,1380.8 L1443.3,1380.8 L1445.5,1380.2 L1447.7,1381.0 L1449.8,1381.1 L1452.0,1381.2 L1454.1,1381.3 L1456.3,1381.6 L1458.4,1380.9 L1460.6,1381.2 L1462.8,1380.9 L1464.9,1380.8 L1467.1,1380.6 L1469.2,1381.5 L1471.4,1380.1 L1473.5,1380.3 L1475.7,1381.1 L1477.9,1381.0 L1480.0,1380.7 L1482.2,1381.5 L1484.3,1380.8 L1486.5,1380.9 L1488.7,1381.2 L1490.8,1380.9 L1493.0,1380.8 L1495.1,1381.0 L1497.3,1381.6 L1499.4,1380.9 L1501.6,1381.3 L1503.8,1381.2 L1505.9,1381.0 L1508.1,1380.5 L1510.2,1381.7 L1512.4,1381.7 L1514.5,1381.6 L1516.7,1381.2 L1518.9,1382.0 L1521.0,1381.2 L1523.2,1380.7 L1525.3,1380.6 L1527.5,1380.9 L1529.6,1381.2 L1531.8,1380.2 L1534.0,1380.9 L1536.1,1381.2 L1538.3,1381.7 L1540.4,1381.3 L1542.6,1382.0 L1544.7,1382.5 L1546.9,1381.5 L1549.1,1381.2 L1551.2,1381.7 L1553.4,1382.0 L1555.5,1381.6 L1557.7,1381.9 L1559.8,1380.8 L1562.0,1381.5 L1564.2,1381.6 L1566.3,1381.8 L1568.5,1381.7 L1570.6,1381.8 L1572.8,1381.2 L1575.0,1381.9 L1577.1,1380.5 L1579.3,1381.0 L1581.4,1380.8 L1583.6,1382.0 L1585.7,1381.0 L1587.9,1381.2 L1590.1,1381.2 L1592.2,1381.6 L1594.4,1381.4 L1596.5,1380.8 L1598.7,1380.9 L1600.8,1381.6 L1603.0,1381.8 L1605.2,1381.1 L1607.3,1380.5 L1609.5,1380.3 L1611.6,1380.7 L1613.8,1380.9 L1615.9,1380.9 L1618.1,1380.8 L1620.3,1381.1 L1622.4,1381.8 L1624.6,1381.9 L1626.7,1381.3 L1628.9,1381.6 L1631.0,1381.2 L1633.2,1381.8 L1635.4,1381.9 L1637.5,1381.9 L1639.7,1382.6 L1641.8,1382.3 L1644.0,1382.1 L1646.1,1382.2 L1648.3,1381.1 L1650.5,1380.9 L1652.6,1380.8 L1654.8,1381.4 L1656.9,1381.2 L1659.1,1380.5 L1661.3,1380.4 L1663.4,1380.6 L1665.6,1380.6 L1667.7,1380.6 L1669.9,1380.1 L1672.0,1380.6 L1674.2,1380.2 L1676.4,1380.4 L1678.5,1380.4 L1680.7,1380.5 L1682.8,1381.4 L1685.0,1380.9 L1687.1,1380.7 L1689.3,1379.6 L1691.5,1379.8 L1693.6,1380.5 L1695.8,1380.5 L1697.9,1381.0 L1700.1,1380.7 L1702.2,1381.1 L1704.4,1381.0 L1706.6,1381.4 L1708.7,1380.8 L1710.9,1381.2 L1713.0,1380.6 L1715.2,1380.2 L1717.3,1381.0 L1719.5,1380.0 L1721.7,1379.8 L1723.8,1381.0 L1726.0,1380.7 L1728.1,1380.7 L1730.3,1380.6 L1732.4,1380.4 L1734.6,1381.3 L1736.8,1380.7 L1738.9,1381.1 L1741.1,1380.6 L1743.2,1379.9 L1745.4,1379.8 L1747.6,1379.9 L1749.7,1381.2 L1751.9,1380.1 L1754.0,1380.1 L1756.2,1379.1 L1758.3,1379.7 L1760.5,1379.5 L1762.7,1379.7 L1764.8,1379.6 L1767.0,1379.2 L1769.1,1379.2 L1771.3,1379.2 L1773.4,1379.6 L1775.6,1379.1 L1777.8,1378.9 L1779.9,1378.1 L1782.1,1378.7 L1784.2,1378.4 L1786.4,1377.8 L1788.5,1378.5 L1790.7,1378.5 L1792.9,1378.0 L1795.0,1377.6 L1797.2,1376.7 L1799.3,1375.5 L1801.5,1376.1 L1803.6,1375.3 L1805.8,1375.8 L1808.0,1375.3 L1810.1,1375.1 L1812.3,1374.3 L1814.4,1374.1 L1816.6,1373.8 L1818.7,1372.9 L1820.9,1372.4 L1823.1,1371.6 L1825.2,1370.2 L1827.4,1368.2 L1829.5,1367.8 L1831.7,1366.2 L1833.9,1364.5 L1836.0,1362.4 L1838.2,1360.5 L1840.3,1360.2 L1842.5,1359.2 L1844.6,1357.3 L1846.8,1355.6 L1849.0,1351.6 L1851.1,1349.8 L1853.3,1346.6 L1855.4,1343.7 L1857.6,1342.0 L1859.7,1340.1 L1861.9,1336.9 L1864.1,1333.9 L1866.2,1331.4 L1868.4,1329.8 L1870.5,1328.8 L1872.7,1328.2 L1874.8,1326.7 L1877.0,1325.1 L1879.2,1324.4 L1881.3,1325.0 L1883.5,1326.0 L1885.6,1326.0 L1887.8,1328.0 L1889.9,1329.6 L1892.1,1332.2 L1894.3,1333.5 L1896.4,1336.7 L1898.6,1339.8 L1900.7,1342.6 L1902.9,1345.3 L1905.0,1347.2 L1907.2,1349.4 L1909.4,1351.0 L1911.5,1353.5 L1913.7,1355.4 L1915.8,1358.1 L1918.0,1360.4 L1920.2,1361.9 L1922.3,1364.4 L1924.5,1364.8 L1926.6,1366.2 L1928.8,1368.6 L1930.9,1369.3 L1933.1,1370.7 L1935.3,1370.2 L1937.4,1372.4 L1939.6,1372.8 L1941.7,1373.3 L1943.9,1374.7 L1946.0,1375.2 L1948.2,1374.7 L1950.4,1376.3 L1952.5,1376.1 L1954.7,1376.5 L1956.8,1376.7 L1959.0,1377.0 L1961.1,1377.3 L1963.3,1377.6 L1965.5,1377.8 L1967.6,1379.4 L1969.8,1379.2 L1971.9,1379.3 L1974.1,1378.8 L1976.2,1379.9 L1978.4,1379.8 L1980.6,1379.6 L1982.7,1379.3 L1984.9,1379.8 L1987.0,1378.9 L1989.2,1379.1 L1991.3,1379.3 L1993.5,1379.8 L1995.7,1380.0 L1997.8,1379.3 L2000.0,1380.1 L2002.1,1380.0 L2004.3,1379.9 L2006.5,1380.2 L2008.6,1380.2 L2010.8,1380.1 L2012.9,1380.2 L2015.1,1380.7 L2017.2,1380.7 L2019.4,1380.8 L2021.6,1380.4 L2023.7,1381.2 L2025.9,1381.0 L2028.0,1380.6 L2030.2,1381.3 L2032.3,1380.4 L2034.5,1380.4 L2036.7,1381.1 L2038.8,1380.8 L2041.0,1380.8 L2043.1,1380.8 L2045.3,1381.0 L2047.4,1381.3 L2049.6,1381.5 L2051.8,1381.0 L2053.9,1380.9 L2056.1,1380.1 L2058.2,1380.5 L2060.4,1381.2 L2062.5,1381.2 L2064.7,1381.9 L2066.9,1381.4 L2069.0,1381.5 L2071.2,1381.9 L2073.3,1381.0 L2075.5,1381.9 L2077.6,1381.0 L2079.8,1381.1 L2082.0,1380.4 L2084.1,1380.8 L2086.3,1380.7 L2088.4,1381.6 L2090.6,1380.5 L2092.8,1381.3 L2094.9,1381.5 L2097.1,1381.8 L2099.2,1382.1 L2101.4,1382.1 L2103.5,1381.3 L2105.7,1381.7 L2107.9,1381.1 L2110.0,1380.9 L2112.2,1381.0 L2114.3,1380.9 L2116.5,1380.8 L2118.6,1381.5 L2120.8,1381.4 L2123.0,1380.3 L2125.1,1380.3 L2127.3,1380.4 L2129.4,1381.8 L2131.6,1381.4 L2133.7,1380.7 L2135.9,1380.9 L2138.1,1379.5 L2140.2,1380.7 L2142.4,1380.3 L2144.5,1379.7 L2146.7,1380.2 L2148.8,1379.6 L2151.0,1379.1 L2153.2,1379.7 L2155.3,1380.4 L2157.5,1379.5 L2159.6,1379.2 L2161.8,1378.9 L2163.9,1378.9 L2166.1,1378.4 L2168.3,1378.4 L2170.4,1377.8 L2172.6,1377.8 L2174.7,1378.1 L2176.9,1377.1 L2179.1,1377.6 L2181.2,1378.2 L2183.4,1377.3 L2185.5,1376.9 L2187.7,1376.9 L2189.8,1376.8 L2192.0,1376.2 L2194.2,1376.9 L2196.3,1377.1 L2198.5,1377.3 L2200.6,1377.3 L2202.8,1376.7 L2204.9,1376.7 L2207.1,1376.5 L2209.3,1378.0 L2211.4,1377.3 L2213.6,1377.7 L2215.7,1378.2 L2217.9,1377.8 L2220.0,1377.8 L2222.2,1378.1 L2224.4,1378.8 L2226.5,1377.9 L2228.7,1378.4 L2230.8,1378.7 L2233.0,1379.0 L2235.1,1378.6 L2237.3,1379.4 L2239.5,1379.7 L2241.6,1379.2 L2243.8,1379.0 L2245.9,1380.5 L2248.1,1380.0 L2250.2,1379.4 L2252.4,1380.2 L2254.6,1379.9 L2256.7,1380.4 L2258.9,1380.9 L2261.0,1380.5 L2263.2,1380.2 L2265.4,1381.7 L2267.5,1380.9 L2269.7,1380.6 L2271.8,1381.1 L2274.0,1381.6 L2276.1,1381.6 L2278.3,1381.3 L2280.5,1382.0 L2282.6,1381.4 L2284.8,1381.3 L2286.9,1382.0 L2289.1,1382.5 L2291.2,1382.5 L2293.4,1382.7 L2295.6,1382.6 L2297.7,1382.7 L2299.9,1382.1 L2302.0,1381.8 L2304.2,1382.3 L2306.3,1382.8 L2308.5,1382.3 L2310.7,1381.9"/>
<path stroke="#ff0000" d="M151.0,1208.6 L153.2,1209.3 L155.3,1208.3 L157.5,1209.0 L159.6,1208.6 L161.8,1208.4 L163.9,1209.6 L166.1,1209.1 L168.3,1208.7 L170.4,1209.1 L172.6,1209.5 L174.7,1208.9 L176.9,1209.0 L179.0,1208.1 L181.2,1208.1 L183.4,1208.0 L185.5,1207.5 L187.7,1207.1 L189.8,1206.8 L192.0,1207.6 L194.2,1208.0 L196.3,1208.1 L198.5,1208.3 L200.6,1207.6 L202.8,1208.0 L204.9,1208.4 L207.1,1208.9 L209.3,1208.2 L211.4,1208.1 L213.6,1207.0 L215.7,1207.5 L217.9,1206.7 L220.0,1206.8 L222.2,1208.4 L224.4,1207.1 L226.5,1208.3 L228.7,1208.6 L230.8,1208.3 L233.0,1208.7 L235.1,1208.9 L237.3,1209.3 L239.5,1208.7 L241.6,1208.2 L243.8,1208.0 L245.9,1207.6 L248.1,1208.1 L250.2,1207.8 L252.4,1208.8 L254.6,1207.5 L256.7,1207.3 L258.9,1207.4 L261.0,1206.7 L263.2,1208.8 L265.3,1207.1 L267.5,1207.7 L269.7,1207.8 L271.8,1209.2 L274.0,1207.5 L276.1,1208.7 L278.3,1208.1 L280.5,1208.2 L282.6,1207.9 L284.8,1208.6 L286.9,1207.8 L289.1,1208.1 L291.2,1208.5 L293.4,1209.6 L295.6,1207.5 L297.7,1208.9 L299.9,1209.3 L302.0,1208.5 L304.2,1208.6 L306.3,1208.2 L308.5,1209.4 L310.7,1209.0 L312.8,1208.5 L315.0,1208.3 L317.1,1208.2 L319.3,1208.2 L321.4,1207.8 L323.6,1209.4 L325.8,1207.7 L327.9,1205.8 L330.1,1207.1 L332.2,1207.7 L334.4,1208.3 L336.5,1208.2 L338.7,1208.2 L340.9,1208.5 L343.0,1209.0 L345.2,1208.4 L347.3,1208.1 L349.5,1209.5 L351.6,1209.2 L353.8,1208.1 L356.0,1209.7 L358.1,1209.4 L360.3,1208.5 L362.4,1207.7 L364.6,1208.2 L366.8,1207.8 L368.9,1207.4 L371.1,1207.1 L373.2,1207.4 L375.4,1208.6 L377.5,1208.2 L379.7,1207.3 L381.9,1208.3 L384.0,1208.3 L386.2,1208.8 L388.3,1209.3 L390.5,1208.6 L392.6,1208.3 L394.8,1208.3 L397.0,1207.5 L399.1,1208.3 L401.3,1209.1 L403.4,1208.8 L405.6,1208.3 L407.7,1208.1 L409.9,1207.7 L412.1,1207.5 L414.2,1207.6 L416.4,1207.4 L418.5,1207.6 L420.7,1206.9 L422.8,1207.8 L425.0,1208.0 L427.2,1207.4 L429.3,1206.4 L431.5,1207.3 L433.6,1208.5 L435.8,1207.8 L437.9,1207.7 L440.1,1207.6 L442.3,1208.3 L444.4,1207.6 L446.6,1208.5 L448.7,1208.1 L450.9,1208.6 L453.1,1208.3 L455.2,1208.0 L457.4,1207.1 L459.5,1207.2 L461.7,1207.5 L463.8,1208.2 L466.0,1208.2 L468.2,1207.7 L470.3,1208.1 L472.5,1208.6 L474.6,1208.2 L476.8,1207.8 L478.9,1207.6 L481.1,1208.3 L483.3,1208.4 L485.4,1207.6 L487.6,1208.0 L489.7,1207.6 L491.9,1207.3 L494.0,1208.4 L496.2,1208.6 L498.4,1207.7 L500.5,1207.8 L502.7,1208.1 L504.8,1207.5 L507.0,1207.6 L509.1,1208.1 L511.3,1206.8 L513.5,1207.5 L515.6,1208.1 L517.8,1208.2 L519.9,1207.1 L522.1,1207.6 L524.2,1207.1 L526.4,1207.7 L528.6,1208.1 L530.7,1207.9 L532.9,1207.3 L535.0,1207.1 L537.2,1207.9 L539.4,1207.1 L541.5,1207.6 L543.7,1207.9 L545.8,1207.5 L548.0,1209.0 L550.1,1208.2 L552.3,1209.1 L554.5,1206.9 L556.6,1205.8 L558.8,1207.2 L560.9,1207.7 L563.1,1207.3 L565.2,1207.2 L567.4,1206.1 L569.6,1206.3 L571.7,1206.2 L573.9,1206.6 L576.0,1207.5 L578.2,1207.3 L580.3,1207.4 L582.5,1206.8 L584.7,1206.7 L586.8,1206.9 L589.0,1206.8 L591.1,1207.7 L593.3,1206.7 L595.4,1208.0 L597.6,1206.8 L599.8,1207.5 L601.9,1206.6 L604.1,1207.7 L606.2,1207.3 L608.4,1207.2 L610.5,1207.4 L612.7,1206.6 L614.9,1205.9 L617.0,1205.0 L619.2,1206.6 L621.3,1206.1 L623.5,1205.9 L625.7,1206.2 L627.8,1207.5 L630.0,1205.8 L632.1,1206.2 L634.3,1206.0 L636.4,1206.4 L638.6,1205.1 L640.8,1205.4 L642.9,1206.3 L645.1,1207.1 L647.2,1207.5 L649.4,1206.1 L651.5,1206.0 L653.7,1205.8 L655.9,1204.9 L658.0,1204.4 L660.2,1205.5 L662.3,1205.7 L664.5,1205.5 L666.6,1206.2 L668.8,1205.1 L671.0,1205.5 L673.1,1205.4 L675.3,1205.2 L677.4,1205.4 L679.6,1205.3 L681.7,1205.3 L683.9,1205.2 L686.1,1206.2 L688.2,1205.2 L690.4,1205.5 L692.5,1205.3 L694.7,1204.6 L696.8,1205.0 L699.0,1204.0 L701.2,1204.8 L703.3,1203.9 L705.5,1203.6 L707.6,1203.9 L709.8,1204.3 L712.0,1204.5 L714.1,1204.5 L716.3,1203.8 L718.4,1202.9 L720.6,1203.4 L722.7,1203.4 L724.9,1202.5 L727.1,1203.3 L729.2,1203.0 L731.4,1202.1 L733.5,1202.5 L735.7,1201.5 L737.8,1201.2 L740.0,1201.8 L742.2,1200.8 L744.3,1201.2 L746.5,1200.4 L748.6,1201.3 L750.8,1200.7 L752.9,1200.8 L755.1,1199.7 L757.3,1199.9 L759.4,1200.6 L761.6,1200.5 L763.7,1198.9 L765.9,1199.8 L768.0,1200.0 L770.2,1199.2 L772.4,1199.8 L774.5,1198.3 L776.7,1198.1 L778.8,1198.6 L781.0,1198.8 L783.1,1198.7 L785.3,1197.0 L787.5,1195.6 L789.6,1196.1 L791.8,1195.0 L793.9,1195.1 L796.1,1194.2 L798.3,1195.1 L800.4,1195.0 L802.6,1194.6 L804.7,1193.8 L806.9,1193.2 L809.0,1192.5 L811.2,1192.3 L813.4,1191.8 L815.5,1191.4 L817.7,1190.4 L819.8,1191.0 L822.0,1190.0 L824.1,1189.8 L826.3,1189.3 L828.5,1187.4 L830.6,1185.6 L832.8,1186.2 L834.9,1185.0 L837.1,1184.3 L839.2,1183.4 L841.4,1182.7 L843.6,1181.1 L845.7,1180.5 L847.9,1179.5 L850.0,1178.8 L852.2,1176.5 L854.3,1176.9 L856.5,1176.2 L858.7,1173.9 L860.8,1173.0 L863.0,1172.4 L865.1,1171.8 L867.3,1170.6 L869.4,1170.2 L871.6,1168.5 L873.8,1166.4 L875.9,1165.0 L878.1,1164.6 L880.2,1162.9 L882.4,1162.3 L884.6,1161.5 L886.7,1160.2 L888.9,1159.3 L891.0,1157.4 L893.2,1156.1 L895.3,1154.6 L897.5,1153.3 L899.7,1151.7 L901.8,1151.1 L904.0,1150.1 L906.1,1149.0 L908.3,1149.2 L910.4,1149.2 L912.6,1148.5 L914.8,1149.1 L916.9,1149.0 L919.1,1149.0 L921.2,1148.0 L923.4,1147.1 L925.5,1148.2 L927.7,1148.7 L929.9,1149.5 L932.0,1150.0 L934.2,1151.2 L936.3,1151.2 L938.5,1152.3 L940.6,1152.3 L942.8,1152.0 L945.0,1153.6 L947.1,1156.2 L949.3,1156.0 L951.4,1158.2 L953.6,1158.9 L955.7,1160.0 L957.9,1161.5 L960.1,1162.9 L962.2,1163.5 L964.4,1165.1 L966.5,1166.8 L968.7,1168.4 L970.9,1168.8 L973.0,1171.1 L975.2,1173.0 L977.3,1174.7 L979.5,1173.8 L981.6,1174.9 L983.8,1174.8 L986.0,1176.6 L988.1,1178.1 L990.3,1178.3 L992.4,1178.6 L994.6,1180.3 L996.7,1181.9 L998.9,1182.2 L1001.1,1183.1 L1003.2,1182.5 L1005.4,1183.8 L1007.5,1185.4 L1009.7,1186.5 L1011.8,1188.2 L1014.0,1187.7 L1016.2,1187.1 L1018.3,1188.9 L1020.5,1189.4 L1022.6,1190.4 L1024.8,1191.5 L1026.9,1192.2 L1029.1,1193.3 L1031.3,1194.1 L1033.4,1192.8 L1035.6,1193.4 L1037.7,1195.3 L1039.9,1194.8 L1042.0,1195.7 L1044.2,1195.7 L1046.4,1195.7 L1048.5,1197.1 L1050.7,1197.6 L1052.8,1197.3 L1055.0,1198.0 L1057.2,1197.1 L1059.3,1197.3 L1061.5,1198.5 L1063.6,1198.7 L1065.8,1198.2 L1067.9,1199.1 L1070.1,1199.6 L1072.3,1200.5 L1074.4,1200.9 L1076.6,1200.4 L1078.7,1200.2 L1080.9,1200.4 L1083.0,1200.6 L1085.2,1201.8 L1087.4,1202.6 L1089.5,1202.9 L1091.7,1202.5 L1093.8,1202.1 L1096.0,1202.7 L1098.1,1202.3 L1100.3,1202.5 L1102.5,1201.5 L1104.6,1202.0 L1106.8,1203.4 L1108.9,1202.6 L1111.1,1202.0 L1113.2,1202.7 L1115.4,1204.2 L1117.6,1204.8 L1119.7,1204.0 L1121.9,1203.6 L1124.0,1203.8 L1126.2,1203.4 L1128.3,1203.9 L1130.5,1204.0 L1132.7,1203.3 L1134.8,1203.6 L1137.0,1204.0 L1139.1,1203.9 L1141.3,1203.7 L1143.5,1205.0 L1145.6,1206.2 L1147.8,1205.4 L1149.9,1205.1 L1152.1,1205.5 L1154.2,1205.3 L1156.4,1204.9 L1158.6,1206.1 L1160.7,1205.2 L1162.9,1205.0 L1165.0,1205.0 L1167.2,1204.9 L1169.3,1205.3 L1171.5,1206.1 L1173.7,1207.0 L1175.8,1206.9 L1178.0,1206.5 L1180.1,1205.6 L1182.3,1206.0 L1184.4,1205.6 L1186.6,1206.0 L1188.8,1206.9 L1190.9,1206.8 L1193.1,1206.6 L1195.2,1206.2 L1197.4,1206.5 L1199.5,1206.7 L1201.7,1206.2 L1203.9,1206.3 L1206.0,1207.2 L1208.2,1206.0 L1210.3,1206.3 L1212.5,1206.0 L1214.6,1207.6 L1216.8,1207.7 L1219.0,1207.8 L1221.1,1207.7 L1223.3,1207.7 L1225.4,1207.7 L1227.6,1206.5 L1229.8,1207.2 L1231.9,1207.7 L1234.1,1206.7 L1236.2,1207.7 L1238.4,1208.0 L1240.5,1206.8 L1242.7,1207.0 L1244.9,1207.2 L1247.0,1207.1 L1249.2,1207.7 L1251.3,1206.9 L1253.5,1207.3 L1255.6,1207.7 L1257.8,1208.3 L1260.0,1208.1 L1262.1,1207.8 L1264.3,1208.3 L1266.4,1206.9 L1268.6,1208.1 L1270.7,1207.9 L1272.9,1207.2 L1275.1,1207.4 L1277.2,1206.7 L1279.4,1206.2 L1281.5,1207.1 L1283.7,1207.2 L1285.8,1208.2 L1288.0,1207.7 L1290.2,1207.2 L1292.3,1207.2 L1294.5,1208.9 L1296.6,1208.6 L1298.8,1208.1 L1300.9,1207.6 L1303.1,1207.4 L1305.3,1207.9 L1307.4,1208.5 L1309.6,1209.2 L1311.7,1209.5 L1313.9,1209.1 L1316.1,1208.4 L1318.2,1207.9 L1320.4,1206.8 L1322.5,1207.2 L1324.7,1208.2 L1326.8,1208.2 L1329.0,1208.7 L1331.2,1207.8 L1333.3,1208.9 L1335.5,1209.0 L1337.6,1208.9 L1339.8,1209.0 L1341.9,1207.5 L1344.1,1207.8 L1346.3,1207.8 L1348.4,1209.5 L1350.6,1209.0 L1352.7,1208.6 L1354.9,1209.3 L1357.0,1208.4 L1359.2,1209.6 L1361.4,1208.8 L1363.5,1208.8 L1365.7,1208.3 L1367.8,1209.2 L1370.0,1207.7 L1372.1,1208.8 L1374.3,1208.4 L1376.5,1208.8 L1378.6,1208.2 L1380.8,1208.8 L1382.9,1209.0 L1385.1,1209.4 L1387.2,1209.4 L1389.4,1209.6 L1391.6,1209.9 L1393.7,1209.2 L1395.9,1208.4 L1398.0,1208.0 L1400.2,1209.0 L1402.4,1208.8 L1404.5,1209.6 L1406.7,1209.4 L1408.8,1208.6 L1411.0,1209.4 L1413.1,1210.5 L1415.3,1209.6 L1417.5,1208.8 L1419.6,1208.4 L1421.8,1209.4 L1423.9,1208.9 L1426.1,1208.8 L1428.2,1209.4 L1430.4,1209.3 L1432.6,1209.3 L1434.7,1208.9 L1436.9,1208.6 L1439.0,1209.0 L1441.2,1209.2 L1443.3,1209.5 L1445.5,1209.0 L1447.7,1209.3 L1449.8,1209.5 L1452.0,1209.4 L1454.1,1209.6 L1456.3,1210.0 L1458.4,1209.7 L1460.6,1209.4 L1462.8,1208.7 L1464.9,1209.1 L1467.1,1209.1 L1469.2,1208.9 L1471.4,1208.5 L1473.5,1209.2 L1475.7,1210.8 L1477.9,1210.2 L1480.0,1209.7 L1482.2,1209.7 L1484.3,1209.0 L1486.5,1209.1 L1488.7,1208.7 L1490.8,1208.6 L1493.0,1209.0 L1495.1,1209.2 L1497.3,1209.1 L1499.4,1208.6 L1501.6,1209.1 L1503.8,1208.4 L1505.9,1209.3 L1508.1,1209.0 L1510.2,1209.1 L1512.4,1209.6 L1514.5,1209.7 L1516.7,1208.6 L1518.9,1208.7 L1521.0,1209.2 L1523.2,1208.4 L1525.3,1207.3 L1527.5,1208.2 L1529.6,1208.7 L1531.8,1209.2 L1534.0,1209.2 L1536.1,1209.2 L1538.3,1209.3 L1540.4,1210.0 L1542.6,1209.8 L1544.7,1209.7 L1546.9,1209.1 L1549.1,1209.8 L1551.2,1209.3 L1553.4,1209.6 L1555.5,1208.0 L1557.7,1208.7 L1559.8,1208.8 L1562.0,1208.6 L1564.2,1209.6 L1566.3,1209.5 L1568.5,1209.1 L1570.6,1208.7 L1572.8,1210.0 L1575.0,1209.9 L1577.1,1209.8 L1579.3,1208.8 L1581.4,1209.7 L1583.6,1209.6 L1585.7,1209.1 L1587.9,1208.9 L1590.1,1207.9 L1592.2,1208.8 L1594.4,1208.2 L1596.5,1209.1 L1598.7,1208.7 L1600.8,1208.4 L1603.0,1208.8 L1605.2,1209.0 L1607.3,1208.2 L1609.5,1208.5 L1611.6,1209.0 L1613.8,1208.7 L1615.9,1207.9 L1618.1,1208.2 L1620.3,1207.9 L1622.4,1208.0 L1624.6,1208.4 L1626.7,1208.5 L1628.9,1208.5 L1631.0,1207.5 L1633.2,1208.3 L1635.4,1208.4 L1637.5,1208.2 L1639.7,1208.5 L1641.8,1209.7 L1644.0,1208.3 L1646.1,1207.4 L1648.3,1208.5 L1650.5,1208.0 L1652.6,1209.0 L1654.8,1208.1 L1656.9,1208.0 L1659.1,1208.7 L1661.3,1209.1 L1663.4,1208.9 L1665.6,1208.9 L1667.7,1208.5 L1669.9,1208.1 L1672.0,1208.0 L1674.2,1208.9 L1676.4,1208.9 L1678.5,1208.5 L1680.7,1208.5 L1682.8,1208.8 L1685.0,1209.1 L1687.1,1208.4 L1689.3,1208.1 L1691.5,1208.2 L1693.6,1209.6 L1695.8,1208.8 L1697.9,1209.0 L1700.1,1207.4 L1702.2,1208.1 L1704.4,1207.0 L1706.6,1206.7 L1708.7,1206.8 L1710.9,1207.1 L1713.0,1207.4 L1715.2,1207.6 L1717.3,1207.6 L1719.5,1207.2 L1721.7,1208.8 L1723.8,1208.2 L1726.0,1208.0 L1728.1,1208.7 L1730.3,1208.4 L1732.4,1207.9 L1734.6,1207.5 L1736.8,1208.3 L1738.9,1206.7 L1741.1,1206.0 L1743.2,1206.4 L1745.4,1205.1 L1747.6,1205.3 L1749.7,1206.5 L1751.9,1206.0 L1754.0,1206.1 L1756.2,1206.4 L1758.3,1205.3 L1760.5,1205.6 L1762.7,1205.2 L1764.8,1204.6 L1767.0,1204.7 L1769.1,1204.8 L1771.3,1204.6 L1773.4,1204.2 L1775.6,1204.9 L1777.8,1205.3 L1779.9,1204.9 L1782.1,1204.3 L1784.2,1203.2 L1786.4,1202.8 L1788.5,1202.2 L1790.7,1202.6 L1792.9,1203.1 L1795.0,1203.1 L1797.2,1202.4 L1799.3,1201.6 L1801.5,1201.4 L1803.6,1201.0 L1805.8,1200.9 L1808.0,1201.1 L1810.1,1199.6 L1812.3,1200.3 L1814.4,1197.8 L1816.6,1196.5 L1818.7,1195.7 L1820.9,1195.3 L1823.1,1195.2 L1825.2,1196.2 L1827.4,1194.5 L1829.5,1194.4 L1831.7,1192.9 L1833.9,1192.1 L1836.0,1190.5 L1838.2,1191.2 L1840.3,1189.6 L1842.5,1187.9 L1844.6,1188.4 L1846.8,1186.7 L1849.0,1185.4 L1851.1,1183.9 L1853.3,1182.2 L1855.4,1180.4 L1857.6,1179.8 L1859.7,1180.1 L1861.9,1178.9 L1864.1,1177.5 L1866.2,1177.1 L1868.4,1175.4 L1870.5,1175.6 L1872.7,1174.7 L1874.8,1173.5 L1877.0,1173.8 L1879.2,1173.9 L1881.3,1173.4 L1883.5,1173.8 L1885.6,1174.6 L1887.8,1175.6 L1889.9,1175.0 L1892.1,1174.1 L1894.3,1177.1 L1896.4,1177.6 L1898.6,1178.2 L1900.7,1179.7 L1902.9,1180.4 L1905.0,1182.2 L1907.2,1182.3 L1909.4,1183.6 L1911.5,1184.1 L1913.7,1186.6 L1915.8,1187.3 L1918.0,1188.9 L1920.2,1190.4 L1922.3,1190.0 L1924.5,1190.9 L1926.6,1192.4 L1928.8,1193.1 L1930.9,1193.7 L1933.1,1195.0 L1935.3,1196.1 L1937.4,1196.0 L1939.6,1196.6 L1941.7,1197.6 L1943.9,1198.2 L1946.0,1198.7 L1948.2,1198.4 L1950.4,1200.3 L1952.5,1200.2 L1954.7,1200.7 L1956.8,1200.9 L1959.0,1201.3 L1961.1,1201.7 L1963.3,1201.5 L1965.5,1202.3 L1967.6,1203.3 L1969.8,1203.4 L1971.9,1203.8 L1974.1,1204.0 L1976.2,1203.9 L1978.4,1205.1 L1980.6,1204.2 L1982.7,1204.5 L1984.9,1205.2 L1987.0,1205.1 L1989.2,1204.4 L1991.3,1204.1 L1993.5,1205.7 L1995.7,1204.9 L1997.8,1205.2 L2000.0,1205.8 L2002.1,1205.8 L2004.3,1204.7 L2006.5,1204.2 L2008.6,1205.1 L2010.8,1205.2 L2012.9,1205.6 L2015.1,1206.0 L2017.2,1206.3 L2019.4,1205.6 L2021.6,1205.0 L2023.7,1206.5 L2025.9,1206.2 L2028.0,1205.8 L2030.2,1205.1 L2032.3,1206.4 L2034.5,1205.9 L2036.7,1205.8 L2038.8,1206.9 L2041.0,1207.2 L2043.1,1207.5 L2045.3,1206.5 L2047.4,1205.1 L2049.6,1205.7 L2051.8,1206.4 L2053.9,1206.5 L2056.1,1207.5 L2058.2,1207.7 L2060.4,1206.9 L2062.5,1207.6 L2064.7,1207.5 L2066.9,1207.2 L2069.0,1208.1 L2071.2,1206.8 L2073.3,1207.9 L2075.5,1208.5 L2077.6,1206.8 L2079.8,1207.2 L2082.0,1207.4 L2084.1,1206.9 L2086.3,1207.0 L2088.4,1207.0 L2090.6,1207.5 L2092.8,1207.4 L2094.9,1206.3 L2097.1,1207.9 L2099.2,1208.5 L2101.4,1207.7 L2103.5,1208.4 L2105.7,1209.4 L2107.9,1207.7 L2110.0,1207.6 L2112.2,1207.5 L2114.3,1208.2 L2116.5,1207.9 L2118.6,1207.1 L2120.8,1208.5 L2123.0,1208.1 L2125.1,1208.6 L2127.3,1209.8 L2129.4,1208.4 L2131.6,1208.0 L2133.7,1208.7 L2135.9,1208.4 L2138.1,1208.6 L2140.2,1208.4 L2142.4,1210.1 L2144.5,1209.5 L2146.7,1209.0 L2148.8,1208.7 L2151.0,1208.7 L2153.2,1207.5 L2155.3,1207.7 L2157.5,1208.5 L2159.6,1207.7 L2161.8,1208.0 L2163.9,1208.1 L2166.1,1207.9 L2168.3,1209.7 L2170.4,1209.4 L2172.6,1209.0 L2174.7,1208.2 L2176.9,1208.3 L2179.1,1208.2 L2181.2,1208.2 L2183.4,1208.5 L2185.5,1210.0 L2187.7,1209.9 L2189.8,1210.2 L2192.0,1210.1 L2194.2,1210.9 L2196.3,1209.1 L2198.5,1207.9 L2200.6,1208.3 L2202.8,1208.6 L2204.9,1208.5 L2207.1,1208.1 L2209.3,1208.7 L2211.4,1209.6 L2213.6,1209.1 L2215.7,1208.6 L2217.9,1209.3 L2220.0,1208.6 L2222.2,1208.3 L2224.4,1208.6 L2226.5,1207.1 L2228.7,1209.0 L2230.8,1208.7 L2233.0,1208.9 L2235.1,1208.9 L2237.3,1208.9 L2239.5,1207.8 L2241.6,1209.3 L2243.8,1209.2 L2245.9,1209.0 L2248.1,1210.7 L2250.2,1208.7 L2252.4,1209.1 L2254.6,1208.7 L2256.7,1207.7 L2258.9,1209.3 L2261.0,1207.9 L2263.2,1208.3 L2265.4,1208.4 L2267.5,1208.6 L2269.7,1208.0 L2271.8,1209.1 L2274.0,1208.9 L2276.1,1207.9 L2278.3,1207.5 L2280.5,1208.2 L2282.6,1207.7 L2284.8,1208.4 L2286.9,1208.7 L2289.1,1208.2 L2291.2,1207.2 L2293.4,1207.1 L2295.6,1208.1 L2297.7,1208.0 L2299.9,1209.5 L2302.0,1208.7 L2304.2,1208.8 L2306.3,1209.1 L2308.5,1208.8 L2310.7,1208.9"/>
<path stroke="#ff00ff" d="M151.0,1090.1 L153.2,1089.6 L155.3,1089.6 L157.5,1089.6 L159.6,1089.8 L161.8,1089.2 L163.9,1089.2 L166.1,1089.1 L168.3,1089.0 L170.4,1089.0 L172.6,1089.1 L174.7,1089.2 L176.9,1089.1 L179.0,1089.4 L181.2,1089.3 L183.4,1088.5 L185.5,1089.4 L187.7,1089.3 L189.8,1089.2 L192.0,1089.4 L194.2,1089.5 L196.3,1089.5 L198.5,1089.2 L200.6,1089.4 L202.8,1089.0 L204.9,1089.7 L207.1,1089.2 L209.3,1089.3 L211.4,1089.4 L213.6,1089.5 L215.7,1089.4 L217.9,1089.6 L220.0,1088.5 L222.2,1088.9 L224.4,1089.1 L226.5,1089.2 L228.7,1089.7 L230.8,1089.3 L233.0,1089.3 L235.1,1088.8 L237.3,1089.2 L239.5,1088.8 L241.6,1088.7 L243.8,1089.7 L245.9,1089.7 L248.1,1089.5 L250.2,1089.5 L252.4,1089.0 L254.6,1088.9 L256.7,1089.3 L258.9,1088.7 L261.0,1089.2 L263.2,1088.8 L265.3,1089.1 L267.5,1088.9 L269.7,1089.7 L271.8,1089.8 L274.0,1089.4 L276.1,1088.8 L278.3,1088.9 L280.5,1089.1 L282.6,1089.0 L284.8,1089.3 L286.9,1089.6 L289.1,1089.5 L291.2,1089.3 L293.4,1089.5 L295.6,1089.4 L297.7,1089.6 L299.9,1089.4 L302.0,1089.8 L304.2,1089.5 L306.3,1089.1 L308.5,1089.3 L310.7,1089.1 L312.8,1089.0 L315.0,1089.1 L317.1,1089.5 L319.3,1088.8 L321.4,1089.1 L323.6,1089.2 L325.8,1089.2 L327.9,1089.5 L330.1,1089.0 L332.2,1089.4 L334.4,1089.3 L336.5,1089.3 L338.7,1089.3 L340.9,1089.2 L343.0,1089.1 L345.2,1089.3 L347.3,1089.9 L349.5,1089.9 L351.6,1089.8 L353.8,1089.7 L356.0,1089.3 L358.1,1089.5 L360.3,1090.0 L362.4,1089.2 L364.6,1089.5 L366.8,1089.7 L368.9,1089.6 L371.1,1089.6 L373.2,1089.8 L375.4,1090.2 L377.5,1090.1 L379.7,1090.1 L381.9,1089.8 L384.0,1089.7 L386.2,1089.5 L388.3,1089.5 L390.5,1089.2 L392.6,1089.4 L394.8,1089.8 L397.0,1089.4 L399.1,1089.4 L401.3,1089.5 L403.4,1089.4 L405.6,1089.6 L407.7,1089.5 L409.9,1089.0 L412.1,1088.8 L414.2,1089.3 L416.4,1089.4 L418.5,1089.6 L420.7,1089.5 L422.8,1089.4 L425.0,1088.8 L427.2,1089.4 L429.3,1089.0 L431.5,1089.4 L433.6,1089.0 L435.8,1088.9 L437.9,1089.1 L440.1,1089.0 L442.3,1088.9 L444.4,1089.3 L446.6,1089.4 L448.7,1089.4 L450.9,1089.1 L453.1,1088.9 L455.2,1088.9 L457.4,1088.9 L459.5,1089.0 L461.7,1089.3 L463.8,1089.1 L466.0,1088.9 L468.2,1088.8 L470.3,1089.3 L472.5,1089.2 L474.6,1089.2 L476.8,1089.2 L478.9,1089.3 L481.1,1089.2 L483.3,1089.4 L485.4,1089.4 L487.6,1088.4 L489.7,1088.6 L491.9,1089.7 L494.0,1088.9 L496.2,1088.9 L498.4,1089.2 L500.5,1089.0 L502.7,1089.3 L504.8,1088.7 L507.0,1088.4 L509.1,1088.6 L511.3,1088.5 L513.5,1088.4 L515.6,1088.8 L517.8,1088.8 L519.9,1088.8 L522.1,1088.6 L524.2,1088.7 L526.4,1088.7 L528.6,1088.5 L530.7,1088.7 L532.9,1088.8 L535.0,1088.7 L537.2,1088.8 L539.4,1088.3 L541.5,1088.4 L543.7,1088.3 L545.8,1088.8 L548.0,1088.7 L550.1,1089.1 L552.3,1089.2 L554.5,1088.6 L556.6,1088.1 L558.8,1088.3 L560.9,1088.2 L563.1,1088.1 L565.2,1087.8 L567.4,1088.1 L569.6,1088.1 L571.7,1088.2 L573.9,1088.1 L576.0,1087.8 L578.2,1087.2 L580.3,1087.4 L582.5,1087.4 L584.7,1087.4 L586.8,1087.8 L589.0,1087.6 L591.1,1088.0 L593.3,1087.7 L595.4,1087.7 L597.6,1087.6 L599.8,1087.6 L601.9,1087.0 L604.1,1087.3 L606.2,1087.1 L608.4,1086.7 L610.5,1086.9 L612.7,1086.8 L614.9,1087.0 L617.0,1086.9 L619.2,1086.6 L621.3,1085.9 L623.5,1086.4 L625.7,1086.5 L627.8,1086.2 L630.0,1085.9 L632.1,1085.9 L634.3,1085.2 L636.4,1085.2 L638.6,1084.9 L640.8,1084.3 L642.9,1084.3 L645.1,1084.2 L647.2,1084.3 L649.4,1084.0 L651.5,1082.9 L653.7,1082.1 L655.9,1082.1 L658.0,1081.8 L660.2,1081.2 L662.3,1080.5 L664.5,1080.2 L666.6,1079.4 L668.8,1078.8 L671.0,1078.5 L673.1,1077.7 L675.3,1076.5 L677.4,1075.2 L679.6,1074.2 L681.7,1073.5 L683.9,1071.6 L686.1,1070.4 L688.2,1067.9 L690.4,1065.6 L692.5,1063.4 L694.7,1060.3 L696.8,1057.2 L699.0,1053.4 L701.2,1049.9 L703.3,1046.0 L705.5,1041.0 L707.6,1036.0 L709.8,1030.5 L712.0,1024.3 L714.1,1019.6 L716.3,1013.6 L718.4,1007.9 L720.6,1002.5 L722.7,997.8 L724.9,994.7 L727.1,993.1 L729.2,993.1 L731.4,993.1 L733.5,993.5 L735.7,997.3 L737.8,1001.6 L740.0,1006.7 L742.2,1012.5 L744.3,1019.1 L746.5,1025.7 L748.6,1032.0 L750.8,1038.2 L752.9,1043.4 L755.1,1048.9 L757.3,1053.7 L759.4,1057.9 L761.6,1061.6 L763.7,1065.4 L765.9,1068.2 L768.0,1070.9 L770.2,1073.0 L772.4,1075.6 L774.5,1077.1 L776.7,1078.3 L778.8,1079.5 L781.0,1080.6 L783.1,1081.5 L785.3,1081.8 L787.5,1082.3 L789.6,1083.3 L791.8,1084.2 L793.9,1084.1 L796.1,1084.6 L798.3,1084.8 L800.4,1084.5 L802.6,1085.1 L804.7,1085.3 L806.9,1086.0 L809.0,1086.1 L811.2,1086.3 L813.4,1086.1 L815.5,1086.5 L817.7,1086.2 L819.8,1086.7 L822.0,1087.4 L824.1,1087.0 L826.3,1087.4 L828.5,1087.9 L830.6,1087.7 L832.8,1088.0 L834.9,1087.9 L837.1,1087.7 L839.2,1087.2 L841.4,1087.3 L843.6,1087.3 L845.7,1088.4 L847.9,1088.3 L850.0,1088.2 L852.2,1087.8 L854.3,1088.6 L856.5,1088.1 L858.7,1088.7 L860.8,1088.9 L863.0,1088.7 L865.1,1088.4 L867.3,1088.5 L869.4,1088.2 L871.6,1088.6 L873.8,1089.1 L875.9,1089.1 L878.1,1089.2 L880.2,1088.7 L882.4,1088.8 L884.6,1088.5 L886.7,1088.5 L888.9,1088.9 L891.0,1089.6 L893.2,1089.2 L895.3,1089.0 L897.5,1088.4 L899.7,1088.7 L901.8,1088.5 L904.0,1088.3 L906.1,1088.2 L908.3,1088.6 L910.4,1088.7 L912.6,1089.0 L914.8,1088.8 L916.9,1088.8 L919.1,1089.2 L921.2,1089.2 L923.4,1089.1 L925.5,1089.2 L927.7,1088.8 L929.9,1088.1 L932.0,1087.6 L934.2,1087.0 L936.3,1086.9 L938.5,1086.2 L940.6,1085.7 L942.8,1084.9 L945.0,1083.5 L947.1,1082.4 L949.3,1081.5 L951.4,1080.1 L953.6,1079.1 L955.7,1077.8 L957.9,1076.7 L960.1,1076.4 L962.2,1075.9 L964.4,1076.8 L966.5,1077.4 L968.7,1078.9 L970.9,1079.6 L973.0,1081.0 L975.2,1082.4 L977.3,1083.6 L979.5,1084.8 L981.6,1085.5 L983.8,1086.1 L986.0,1086.6 L988.1,1087.3 L990.3,1087.7 L992.4,1088.3 L994.6,1088.5 L996.7,1088.6 L998.9,1088.7 L1001.1,1088.4 L1003.2,1088.8 L1005.4,1089.2 L1007.5,1088.9 L1009.7,1089.1 L1011.8,1089.4 L1014.0,1089.2 L1016.2,1089.4 L1018.3,1089.3 L1020.5,1090.1 L1022.6,1090.2 L1024.8,1090.1 L1026.9,1089.6 L1029.1,1089.7 L1031.3,1089.6 L1033.4,1089.7 L1035.6,1089.4 L1037.7,1089.6 L1039.9,1089.4 L1042.0,1089.6 L1044.2,1090.1 L1046.4,1089.4 L1048.5,1089.2 L1050.7,1089.6 L1052.8,1089.8 L1055.0,1089.6 L1057.2,1089.8 L1059.3,1089.8 L1061.5,1089.9 L1063.6,1090.2 L1065.8,1089.7 L1067.9,1089.9 L1070.1,1089.8 L1072.3,1089.6 L1074.4,1089.8 L1076.6,1089.4 L1078.7,1089.1 L1080.9,1089.8 L1083.0,1089.4 L1085.2,1090.1 L1087.4,1090.2 L1089.5,1089.8 L1091.7,1089.5 L1093.8,1089.0 L1096.0,1089.4 L1098.1,1089.1 L1100.3,1089.9 L1102.5,1089.3 L1104.6,1089.6 L1106.8,1088.9 L1108.9,1089.3 L1111.1,1089.9 L1113.2,1089.7 L1115.4,1089.5 L1117.6,1089.5 L1119.7,1089.8 L1121.9,1090.0 L1124.0,1089.8 L1126.2,1089.2 L1128.3,1089.6 L1130.5,1090.0 L1132.7,1090.6 L1134.8,1090.2 L1137.0,1090.0 L1139.1,1089.8 L1141.3,1090.0 L1143.5,1090.4 L1145.6,1089.8 L1147.8,1089.8 L1149.9,1089.5 L1152.1,1089.5 L1154.2,1089.6 L1156.4,1089.9 L1158.6,1089.6 L1160.7,1089.7 L1162.9,1090.2 L1165.0,1090.1 L1167.2,1090.2 L1169.3,1090.1 L1171.5,1089.9 L1173.7,1090.0 L1175.8,1090.1 L1178.0,1090.0 L1180.1,1090.2 L1182.3,1090.0 L1184.4,1090.2 L1186.6,1090.0 L1188.8,1090.2 L1190.9,1089.8 L1193.1,1089.7 L1195.2,1089.4 L1197.4,1090.0 L1199.5,1090.1 L1201.7,1090.0 L1203.9,1090.1 L1206.0,1089.8 L1208.2,1089.9 L1210.3,1089.7 L1212.5,1089.3 L1214.6,1089.5 L1216.8,1089.5 L1219.0,1090.1 L1221.1,1089.8 L1223.3,1089.7 L1225.4,1090.1 L1227.6,1090.0 L1229.8,1089.6 L1231.9,1089.8 L1234.1,1089.6 L1236.2,1090.3 L1238.4,1089.8 L1240.5,1089.6 L1242.7,1089.0 L1244.9,1089.3 L1247.0,1090.2 L1249.2,1090.0 L1251.3,1089.7 L1253.5,1089.9 L1255.6,1089.8 L1257.8,1089.9 L1260.0,1090.6 L1262.1,1090.8 L1264.3,1090.8 L1266.4,1090.8 L1268.6,1090.1 L1270.7,1089.4 L1272.9,1089.9 L1275.1,1090.1 L1277.2,1090.0 L1279.4,1089.9 L1281.5,1090.2 L1283.7,1090.2 L1285.8,1090.1 L1288.0,1090.2 L1290.2,1090.0 L1292.3,1089.9 L1294.5,1090.3 L1296.6,1090.1 L1298.8,1090.6 L1300.9,1090.4 L1303.1,1090.2 L1305.3,1090.4 L1307.4,1090.0 L1309.6,1089.9 L1311.7,1089.9 L1313.9,1089.9 L1316.1,1090.1 L1318.2,1090.7 L1320.4,1090.4 L1322.5,1089.9 L1324.7,1089.7 L1326.8,1089.3 L1329.0,1089.9 L1331.2,1090.2 L1333.3,1090.2 L1335.5,1090.2 L1337.6,1090.2 L1339.8,1090.2 L1341.9,1090.3 L1344.1,1090.2 L1346.3,1089.8 L1348.4,1090.2 L1350.6,1090.5 L1352.7,1089.7 L1354.9,1089.8 L1357.0,1089.6 L1359.2,1090.0 L1361.4,1089.9 L1363.5,1090.4 L1365.7,1090.5 L1367.8,1090.1 L1370.0,1089.9 L1372.1,1089.8 L1374.3,1090.1 L1376.5,1089.8 L1378.6,1090.0 L1380.8,1089.6 L1382.9,1090.1 L1385.1,1090.2 L1387.2,1089.8 L1389.4,1089.7 L1391.6,1089.9 L1393.7,1090.0 L1395.9,1089.2 L1398.0,1089.7 L1400.2,1090.3 L1402.4,1090.0 L1404.5,1089.6 L1406.7,1090.2 L1408.8,1090.2 L1411.0,1090.2 L1413.1,1090.3 L1415.3,1089.8 L1417.5,1089.7 L1419.6,1089.6 L1421.8,1089.5 L1423.9,1089.7 L1426.1,1089.6 L1428.2,1090.3 L1430.4,1090.3 L1432.6,1090.4 L1434.7,1089.7 L1436.9,1089.8 L1439.0,1089.9 L1441.2,1090.0 L1443.3,1090.2 L1445.5,1089.9 L1447.7,1089.7 L1449.8,1090.2 L1452.0,1090.8 L1454.1,1091.0 L1456.3,1090.4 L1458.4,1090.0 L1460.6,1090.1 L1462.8,1090.2 L1464.9,1090.6 L1467.1,1090.2 L1469.2,1089.9 L1471.4,1090.3 L1473.5,1090.0 L1475.7,1089.8 L1477.9,1090.1 L1480.0,1090.0 L1482.2,1089.7 L1484.3,1089.8 L1486.5,1089.8 L1488.7,1089.9 L1490.8,1089.8 L1493.0,1090.1 L1495.1,1090.0 L1497.3,1089.9 L1499.4,1090.3 L1501.6,1089.9 L1503.8,1090.2 L1505.9,1090.3 L1508.1,1090.1 L1510.2,1090.1 L1512.4,1089.7 L1514.5,1090.0 L1516.7,1089.7 L1518.9,1089.7 L1521.0,1090.0 L1523.2,1089.8 L1525.3,1090.0 L1527.5,1090.2 L1529.6,1090.4 L1531.8,1090.4 L1534.0,1090.5 L1536.1,1090.1 L1538.3,1090.0 L1540.4,1090.2 L1542.6,1090.5 L1544.7,1090.4 L1546.9,1090.1 L1549.1,1089.8 L1551.2,1089.7 L1553.4,1090.2 L1555.5,1089.9 L1557.7,1089.9 L1559.8,1090.2 L1562.0,1090.3 L1564.2,1090.0 L1566.3,1090.6 L1568.5,1090.4 L1570.6,1090.3 L1572.8,1090.4 L1575.0,1090.2 L1577.1,1090.3 L1579.3,1090.2 L1581.4,1089.9 L1583.6,1089.7 L1585.7,1090.0 L1587.9,1090.1 L1590.1,1090.1 L1592.2,1089.9 L1594.4,1090.0 L1596.5,1090.3 L1598.7,1090.5 L1600.8,1090.2 L1603.0,1090.2 L1605.2,1089.6 L1607.3,1089.6 L1609.5,1089.7 L1611.6,1089.6 L1613.8,1090.1 L1615.9,1089.5 L1618.1,1090.0 L1620.3,1090.2 L1622.4,1090.8 L1624.6,1090.3 L1626.7,1090.3 L1628.9,1090.6 L1631.0,1090.6 L1633.2,1090.1 L1635.4,1090.0 L1637.5,1089.7 L1639.7,1090.0 L1641.8,1090.2 L1644.0,1090.6 L1646.1,1090.5 L1648.3,1090.5 L1650.5,1090.6 L1652.6,1090.1 L1654.8,1090.3 L1656.9,1090.5 L1659.1,1090.2 L1661.3,1089.9 L1663.4,1090.1 L1665.6,1090.1 L1667.7,1090.3 L1669.9,1089.7 L1672.0,1089.8 L1674.2,1090.6 L1676.4,1090.7 L1678.5,1090.3 L1680.7,1090.1 L1682.8,1090.0 L1685.0,1089.8 L1687.1,1089.9 L1689.3,1090.0 L1691.5,1089.7 L1693.6,1089.9 L1695.8,1090.1 L1697.9,1089.7 L1700.1,1089.8 L1702.2,1089.5 L1704.4,1089.9 L1706.6,1090.1 L1708.7,1089.9 L1710.9,1090.1 L1713.0,1090.3 L1715.2,1090.4 L1717.3,1089.9 L1719.5,1089.9 L1721.7,1089.6 L1723.8,1089.3 L1726.0,1090.1 L1728.1,1090.3 L1730.3,1090.6 L1732.4,1090.5 L1734.6,1090.2 L1736.8,1090.2 L1738.9,1090.0 L1741.1,1090.5 L1743.2,1089.6 L1745.4,1090.0 L1747.6,1089.9 L1749.7,1090.2 L1751.9,1090.5 L1754.0,1090.1 L1756.2,1090.5 L1758.3,1090.6 L1760.5,1089.9 L1762.7,1090.5 L1764.8,1090.0 L1767.0,1089.6 L1769.1,1090.2 L1771.3,1089.9 L1773.4,1090.1 L1775.6,1090.1 L1777.8,1089.8 L1779.9,1090.4 L1782.1,1090.7 L1784.2,1090.4 L1786.4,1090.7 L1788.5,1090.3 L1790.7,1090.3 L1792.9,1090.1 L1795.0,1089.7 L1797.2,1089.8 L1799.3,1089.7 L1801.5,1090.0 L1803.6,1090.1 L1805.8,1089.9 L1808.0,1090.3 L1810.1,1090.3 L1812.3,1090.7 L1814.4,1090.2 L1816.6,1090.0 L1818.7,1089.8 L1820.9,1090.0 L1823.1,1089.9 L1825.2,1090.0 L1827.4,1090.5 L1829.5,1090.4 L1831.7,1090.0 L1833.9,1090.1 L1836.0,1089.9 L1838.2,1089.8 L1840.3,1089.8 L1842.5,1089.9 L1844.6,1090.1 L1846.8,1090.2 L1849.0,1090.0 L1851.1,1089.7 L1853.3,1089.7 L1855.4,1089.7 L1857.6,1089.6 L1859.7,1089.2 L1861.9,1089.3 L1864.1,1088.7 L1866.2,1089.3 L1868.4,1089.2 L1870.5,1089.0 L1872.7,1088.1 L1874.8,1087.8 L1877.0,1087.7 L1879.2,1086.9 L1881.3,1085.9 L1883.5,1085.5 L1885.6,1084.3 L1887.8,1084.5 L1889.9,1084.3 L1892.1,1083.6 L1894.3,1083.9 L1896.4,1084.4 L1898.6,1084.7 L1900.7,1085.1 L1902.9,1085.9 L1905.0,1086.2 L1907.2,1086.9 L1909.4,1087.1 L1911.5,1087.2 L1913.7,1087.6 L1915.8,1087.7 L1918.0,1088.2 L1920.2,1088.2 L1922.3,1088.6 L1924.5,1088.7 L1926.6,1089.2 L1928.8,1089.4 L1930.9,1088.8 L1933.1,1088.5 L1935.3,1088.4 L1937.4,1088.1 L1939.6,1088.6 L1941.7,1088.5 L1943.9,1088.0 L1946.0,1087.3 L1948.2,1087.1 L1950.4,1087.1 L1952.5,1087.5 L1954.7,1086.7 L1956.8,1087.0 L1959.0,1086.2 L1961.1,1086.2 L1963.3,1085.7 L1965.5,1085.5 L1967.6,1084.8 L1969.8,1085.2 L1971.9,1085.1 L1974.1,1084.7 L1976.2,1084.1 L1978.4,1084.4 L1980.6,1084.5 L1982.7,1084.1 L1984.9,1084.5 L1987.0,1084.5 L1989.2,1084.2 L1991.3,1084.2 L1993.5,1083.8 L1995.7,1084.6 L1997.8,1085.0 L2000.0,1085.0 L2002.1,1084.7 L2004.3,1084.7 L2006.5,1085.0 L2008.6,1085.0 L2010.8,1085.4 L2012.9,1085.3 L2015.1,1085.8 L2017.2,1086.1 L2019.4,1085.8 L2021.6,1085.5 L2023.7,1084.8 L2025.9,1085.2 L2028.0,1085.5 L2030.2,1085.1 L2032.3,1085.3 L2034.5,1084.8 L2036.7,1084.1 L2038.8,1084.2 L2041.0,1083.8 L2043.1,1082.7 L2045.3,1082.2 L2047.4,1081.4 L2049.6,1081.0 L2051.8,1080.5 L2053.9,1079.6 L2056.1,1078.9 L2058.2,1078.4 L2060.4,1077.3 L2062.5,1076.1 L2064.7,1075.2 L2066.9,1074.9 L2069.0,1074.6 L2071.2,1073.6 L2073.3,1073.1 L2075.5,1072.3 L2077.6,1071.9 L2079.8,1072.2 L2082.0,1072.0 L2084.1,1072.3 L2086.3,1072.7 L2088.4,1073.4 L2090.6,1073.9 L2092.8,1074.5 L2094.9,1075.1 L2097.1,1075.8 L2099.2,1077.1 L2101.4,1078.4 L2103.5,1078.4 L2105.7,1079.7 L2107.9,1080.1 L2110.0,1080.8 L2112.2,1081.5 L2114.3,1082.2 L2116.5,1082.8 L2118.6,1083.3 L2120.8,1084.4 L2123.0,1084.2 L2125.1,1084.5 L2127.3,1084.7 L2129.4,1085.1 L2131.6,1084.9 L2133.7,1085.2 L2135.9,1085.3 L2138.1,1085.9 L2140.2,1085.6 L2142.4,1085.3 L2144.5,1085.0 L2146.7,1085.3 L2148.8,1084.7 L2151.0,1084.2 L2153.2,1083.8 L2155.3,1083.6 L2157.5,1083.8 L2159.6,1083.3 L2161.8,1083.2 L2163.9,1083.3 L2166.1,1083.2 L2168.3,1083.7 L2170.4,1083.7 L2172.6,1084.1 L2174.7,1084.5 L2176.9,1085.1 L2179.1,1085.7 L2181.2,1085.4 L2183.4,1085.4 L2185.5,1085.6 L2187.7,1086.4 L2189.8,1086.9 L2192.0,1087.2 L2194.2,1087.5 L2196.3,1088.2 L2198.5,1088.5 L2200.6,1088.6 L2202.8,1088.8 L2204.9,1088.5 L2207.1,1089.1 L2209.3,1089.8 L2211.4,1089.6 L2213.6,1089.4 L2215.7,1089.8 L2217.9,1089.6 L2220.0,1089.7 L2222.2,1089.9 L2224.4,1089.8 L2226.5,1090.0 L2228.7,1089.4 L2230.8,1089.0 L2233.0,1089.7 L2235.1,1090.0 L2237.3,1090.0 L2239.5,1089.9 L2241.6,1090.0 L2243.8,1090.1 L2245.9,1089.8 L2248.1,1090.0 L2250.2,1089.8 L2252.4,1090.6 L2254.6,1090.4 L2256.7,1090.3 L2258.9,1090.5 L2261.0,1090.6 L2263.2,1090.6 L2265.4,1090.2 L2267.5,1090.2 L2269.7,1090.4 L2271.8,1090.4 L2274.0,1090.3 L2276.1,1090.1 L2278.3,1090.2 L2280.5,1090.6 L2282.6,1090.0 L2284.8,1089.8 L2286.9,1089.7 L2289.1,1089.5 L2291.2,1090.3 L2293.4,1090.8 L2295.6,1090.6 L2297.7,1090.5 L2299.9,1090.7 L2302.0,1090.8 L2304.2,1089.9 L2306.3,1090.1 L2308.5,1090.9 L2310.7,1090.5"/>
<path stroke="#000000" d="M151.0,934.0 L153.2,934.3 L155.3,933.9 L157.5,933.5 L159.6,933.2 L161.8,933.4 L163.9,933.2 L166.1,932.9 L168.3,933.4 L170.4,933.6 L172.6,933.8 L174.7,933.4 L176.9,933.5 L179.0,933.6 L181.2,933.1 L183.4,933.6 L185.5,933.7 L187.7,934.5 L189.8,934.1 L192.0,933.8 L194.2,934.2 L196.3,934.0 L198.5,934.1 L200.6,933.8 L202.8,933.8 L204.9,934.1 L207.1,934.1 L209.3,934.0 L211.4,933.5 L213.6,933.8 L215.7,933.8 L217.9,934.0 L220.0,933.9 L222.2,934.2 L224.4,934.0 L226.5,933.9 L228.7,934.1 L230.8,933.6 L233.0,933.6 L235.1,933.5 L237.3,934.4 L239.5,934.0 L241.6,934.1 L243.8,934.2 L245.9,933.9 L248.1,933.3 L250.2,933.9 L252.4,933.8 L254.6,934.1 L256.7,933.5 L258.9,933.6 L261.0,934.2 L263.2,934.5 L265.3,933.7 L267.5,933.4 L269.7,933.6 L271.8,934.0 L274.0,934.0 L276.1,934.1 L278.3,933.7 L280.5,934.0 L282.6,934.3 L284.8,934.0 L286.9,933.5 L289.1,933.5 L291.2,934.0 L293.4,933.4 L295.6,933.7 L297.7,933.5 L299.9,933.7 L302.0,933.8 L304.2,933.9 L306.3,934.5 L308.5,934.4 L310.7,934.6 L312.8,934.2 L315.0,934.0 L317.1,934.1 L319.3,933.1 L321.4,933.6 L323.6,933.9 L325.8,933.6 L327.9,934.0 L330.1,933.8 L332.2,933.1 L334.4,933.6 L336.5,933.5 L338.7,933.7 L340.9,933.8 L343.0,934.4 L345.2,934.3 L347.3,934.2 L349.5,934.3 L351.6,933.6 L353.8,934.3 L356.0,933.8 L358.1,934.2 L360.3,933.8 L362.4,933.7 L364.6,933.8 L366.8,934.6 L368.9,934.6 L371.1,934.2 L373.2,934.1 L375.4,933.8 L377.5,934.0 L379.7,933.9 L381.9,934.3 L384.0,933.8 L386.2,933.9 L388.3,933.8 L390.5,933.8 L392.6,934.3 L394.8,934.3 L397.0,934.5 L399.1,934.8 L401.3,934.9 L403.4,934.1 L405.6,934.4 L407.7,933.7 L409.9,934.0 L412.1,934.8 L414.2,934.5 L416.4,934.2 L418.5,934.3 L420.7,934.3 L422.8,934.3 L425.0,934.1 L427.2,934.6 L429.3,934.7 L431.5,934.4 L433.6,934.5 L435.8,934.6 L437.9,934.8 L440.1,934.7 L442.3,934.8 L444.4,934.4 L446.6,934.0 L448.7,934.1 L450.9,934.6 L453.1,934.8 L455.2,934.6 L457.4,934.3 L459.5,934.5 L461.7,935.0 L463.8,935.1 L466.0,934.5 L468.2,934.4 L470.3,933.9 L472.5,933.8 L474.6,934.2 L476.8,934.4 L478.9,934.7 L481.1,935.0 L483.3,935.0 L485.4,935.1 L487.6,934.6 L489.7,934.1 L491.9,934.5 L494.0,935.4 L496.2,935.0 L498.4,934.3 L500.5,934.5 L502.7,935.0 L504.8,934.4 L507.0,934.7 L509.1,934.4 L511.3,934.9 L513.5,935.0 L515.6,934.8 L517.8,935.3 L519.9,934.8 L522.1,934.4 L524.2,935.1 L526.4,934.5 L528.6,935.3 L530.7,934.9 L532.9,934.3 L535.0,934.5 L537.2,934.6 L539.4,934.6 L541.5,934.5 L543.7,934.9 L545.8,933.9 L548.0,934.1 L550.1,934.3 L552.3,935.1 L554.5,934.1 L556.6,934.3 L558.8,934.1 L560.9,934.1 L563.1,934.6 L565.2,934.7 L567.4,935.2 L569.6,934.6 L571.7,934.7 L573.9,935.1 L576.0,935.1 L578.2,934.7 L580.3,935.0 L582.5,934.5 L584.7,935.2 L586.8,934.9 L589.0,934.7 L591.1,934.7 L593.3,935.0 L595.4,935.4 L597.6,934.9 L599.8,934.6 L601.9,934.8 L604.1,934.4 L606.2,933.9 L608.4,934.6 L610.5,934.4 L612.7,934.9 L614.9,934.4 L617.0,933.5 L619.2,934.2 L621.3,934.4 L623.5,935.0 L625.7,934.9 L627.8,934.8 L630.0,934.8 L632.1,934.5 L634.3,934.5 L636.4,934.0 L638.6,934.4 L640.8,934.1 L642.9,934.0 L645.1,934.3 L647.2,934.4 L649.4,933.5 L651.5,933.8 L653.7,932.4 L655.9,931.5 L658.0,930.3 L660.2,928.9 L662.3,928.0 L664.5,928.7 L666.6,929.5 L668.8,930.6 L671.0,931.0 L673.1,931.9 L675.3,933.1 L677.4,933.4 L679.6,933.1 L681.7,933.1 L683.9,933.1 L686.1,933.3 L688.2,933.2 L690.4,933.3 L692.5,932.5 L694.7,932.5 L696.8,931.6 L699.0,930.8 L701.2,930.4 L703.3,928.7 L705.5,926.6 L707.6,924.0 L709.8,920.8 L712.0,917.8 L714.1,913.9 L716.3,909.4 L718.4,905.1 L720.6,902.1 L722.7,900.2 L724.9,900.9 L727.1,904.0 L729.2,908.7 L731.4,914.4 L733.5,919.7 L735.7,923.9 L737.8,926.2 L740.0,929.4 L742.2,931.1 L744.3,931.8 L746.5,932.5 L748.6,933.4 L750.8,933.9 L752.9,934.1 L755.1,934.0 L757.3,934.0 L759.4,934.3 L761.6,934.2 L763.7,933.9 L765.9,933.9 L768.0,934.1 L770.2,934.3 L772.4,935.1 L774.5,934.3 L776.7,934.5 L778.8,934.5 L781.0,934.6 L783.1,935.0 L785.3,935.1 L787.5,934.7 L789.6,934.4 L791.8,934.0 L793.9,934.2 L796.1,934.8 L798.3,934.5 L800.4,934.7 L802.6,934.8 L804.7,934.7 L806.9,934.9 L809.0,934.6 L811.2,934.2 L813.4,933.9 L815.5,934.4 L817.7,934.2 L819.8,934.1 L822.0,934.4 L824.1,934.0 L826.3,934.7 L828.5,934.6 L830.6,934.1 L832.8,933.8 L834.9,934.2 L837.1,933.6 L839.2,933.5 L841.4,933.6 L843.6,933.7 L845.7,933.6 L847.9,933.6 L850.0,933.3 L852.2,933.2 L854.3,933.5 L856.5,933.4 L858.7,932.9 L860.8,933.3 L863.0,932.1 L865.1,932.2 L867.3,932.3 L869.4,932.3 L871.6,931.8 L873.8,931.3 L875.9,931.2 L878.1,930.7 L880.2,930.5 L882.4,929.1 L884.6,929.3 L886.7,928.7 L888.9,928.8 L891.0,928.4 L893.2,928.0 L895.3,927.0 L897.5,926.5 L899.7,925.6 L901.8,925.0 L904.0,924.1 L906.1,923.0 L908.3,922.9 L910.4,921.8 L912.6,919.8 L914.8,919.1 L916.9,917.3 L919.1,915.9 L921.2,914.2 L923.4,912.2 L925.5,910.1 L927.7,907.1 L929.9,902.7 L932.0,897.0 L934.2,887.9 L936.3,873.2 L938.5,847.8 L940.6,808.3 L942.8,751.7 L945.0,675.1 L947.1,578.3 L949.3,469.2 L951.4,362.4 L953.6,278.6 L955.7,242.1 L957.9,263.4 L960.1,334.6 L962.2,439.0 L964.4,555.3 L966.5,665.0 L968.7,756.4 L970.9,824.0 L973.0,868.7 L975.2,894.1 L977.3,905.1 L979.5,908.4 L981.6,910.6 L983.8,912.8 L986.0,914.6 L988.1,915.9 L990.3,917.9 L992.4,919.8 L994.6,921.7 L996.7,923.7 L998.9,925.3 L1001.1,927.4 L1003.2,929.4 L1005.4,930.3 L1007.5,931.3 L1009.7,931.8 L1011.8,932.8 L1014.0,933.9 L1016.2,933.4 L1018.3,933.7 L1020.5,934.4 L1022.6,934.4 L1024.8,934.4 L1026.9,933.7 L1029.1,934.0 L1031.3,934.5 L1033.4,935.0 L1035.6,934.9 L1037.7,934.5 L1039.9,934.3 L1042.0,933.8 L1044.2,933.9 L1046.4,934.6 L1048.5,934.6 L1050.7,934.1 L1052.8,934.9 L1055.0,934.2 L1057.2,934.9 L1059.3,934.7 L1061.5,934.8 L1063.6,935.0 L1065.8,934.9 L1067.9,935.2 L1070.1,935.0 L1072.3,934.7 L1074.4,934.5 L1076.6,934.1 L1078.7,934.2 L1080.9,934.9 L1083.0,935.1 L1085.2,935.4 L1087.4,936.0 L1089.5,935.5 L1091.7,935.3 L1093.8,934.6 L1096.0,934.6 L1098.1,935.4 L1100.3,935.3 L1102.5,935.0 L1104.6,935.0 L1106.8,934.2 L1108.9,934.3 L1111.1,934.1 L1113.2,933.8 L1115.4,934.6 L1117.6,935.1 L1119.7,934.9 L1121.9,935.0 L1124.0,934.6 L1126.2,934.9 L1128.3,935.1 L1130.5,935.5 L1132.7,935.7 L1134.8,935.4 L1137.0,935.1 L1139.1,934.7 L1141.3,934.6 L1143.5,935.0 L1145.6,935.1 L1147.8,935.0 L1149.9,935.5 L1152.1,935.4 L1154.2,935.1 L1156.4,934.9 L1158.6,934.9 L1160.7,934.6 L1162.9,934.4 L1165.0,934.8 L1167.2,934.7 L1169.3,934.7 L1171.5,935.2 L1173.7,935.0 L1175.8,935.4 L1178.0,935.1 L1180.1,935.5 L1182.3,935.4 L1184.4,934.5 L1186.6,935.2 L1188.8,935.0 L1190.9,934.3 L1193.1,934.7 L1195.2,934.9 L1197.4,934.5 L1199.5,934.5 L1201.7,934.9 L1203.9,935.4 L1206.0,935.6 L1208.2,935.6 L1210.3,935.6 L1212.5,934.4 L1214.6,934.5 L1216.8,934.8 L1219.0,934.0 L1221.1,934.8 L1223.3,935.2 L1225.4,934.8 L1227.6,934.8 L1229.8,934.6 L1231.9,934.8 L1234.1,934.9 L1236.2,934.9 L1238.4,934.6 L1240.5,934.9 L1242.7,934.9 L1244.9,935.2 L1247.0,935.2 L1249.2,934.6 L1251.3,934.3 L1253.5,934.7 L1255.6,934.7 L1257.8,935.0 L1260.0,935.3 L1262.1,935.1 L1264.3,934.5 L1266.4,934.4 L1268.6,934.9 L1270.7,934.6 L1272.9,935.2 L1275.1,935.1 L1277.2,935.2 L1279.4,934.8 L1281.5,934.9 L1283.7,933.9 L1285.8,934.5 L1288.0,935.0 L1290.2,934.7 L1292.3,934.6 L1294.5,934.8 L1296.6,934.9 L1298.8,934.7 L1300.9,935.1 L1303.1,934.5 L1305.3,935.2 L1307.4,934.6 L1309.6,934.6 L1311.7,935.3 L1313.9,934.8 L1316.1,934.4 L1318.2,934.8 L1320.4,934.6 L1322.5,934.5 L1324.7,934.5 L1326.8,934.6 L1329.0,934.5 L1331.2,934.4 L1333.3,935.3 L1335.5,934.9 L1337.6,935.3 L1339.8,934.7 L1341.9,935.1 L1344.1,934.6 L1346.3,934.7 L1348.4,935.1 L1350.6,934.9 L1352.7,934.3 L1354.9,934.5 L1357.0,934.8 L1359.2,935.1 L1361.4,934.7 L1363.5,934.8 L1365.7,935.0 L1367.8,934.5 L1370.0,934.7 L1372.1,934.6 L1374.3,935.0 L1376.5,935.0 L1378.6,935.0 L1380.8,934.2 L1382.9,934.6 L1385.1,934.7 L1387.2,934.6 L1389.4,934.7 L1391.6,934.5 L1393.7,934.8 L1395.9,935.2 L1398.0,935.3 L1400.2,935.0 L1402.4,935.6 L1404.5,935.6 L1406.7,935.0 L1408.8,935.0 L1411.0,934.5 L1413.1,934.8 L1415.3,935.2 L1417.5,935.5 L1419.6,935.1 L1421.8,934.5 L1423.9,934.8 L1426.1,935.4 L1428.2,935.3 L1430.4,935.6 L1432.6,935.6 L1434.7,935.8 L1436.9,935.6 L1439.0,935.1 L1441.2,935.2 L1443.3,936.0 L1445.5,935.3 L1447.7,934.6 L1449.8,935.6 L1452.0,935.4 L1454.1,935.0 L1456.3,934.8 L1458.4,934.5 L1460.6,935.0 L1462.8,935.1 L1464.9,934.9 L1467.1,934.8 L1469.2,934.8 L1471.4,935.3 L1473.5,935.1 L1475.7,935.6 L1477.9,935.0 L1480.0,934.8 L1482.2,934.8 L1484.3,934.8 L1486.5,934.9 L1488.7,935.4 L1490.8,935.6 L1493.0,935.0 L1495.1,935.5 L1497.3,935.3 L1499.4,935.7 L1501.6,935.3 L1503.8,934.9 L1505.9,935.3 L1508.1,935.4 L1510.2,935.1 L1512.4,935.1 L1514.5,935.1 L1516.7,935.2 L1518.9,934.6 L1521.0,934.4 L1523.2,934.8 L1525.3,935.1 L1527.5,934.9 L1529.6,934.4 L1531.8,935.2 L1534.0,935.0 L1536.1,934.7 L1538.3,935.5 L1540.4,935.6 L1542.6,935.7 L1544.7,935.6 L1546.9,935.5 L1549.1,935.0 L1551.2,935.0 L1553.4,935.2 L1555.5,935.3 L1557.7,935.4 L1559.8,934.9 L1562.0,934.8 L1564.2,934.8 L1566.3,934.9 L1568.5,934.7 L1570.6,934.3 L1572.8,934.3 L1575.0,934.8 L1577.1,935.0 L1579.3,935.2 L1581.4,934.5 L1583.6,934.7 L1585.7,935.2 L1587.9,934.5 L1590.1,934.4 L1592.2,934.2 L1594.4,935.1 L1596.5,935.1 L1598.7,934.9 L1600.8,935.0 L1603.0,935.0 L1605.2,935.3 L1607.3,935.6 L1609.5,935.6 L1611.6,935.4 L1613.8,935.5 L1615.9,935.5 L1618.1,935.7 L1620.3,934.7 L1622.4,935.0 L1624.6,935.1 L1626.7,935.1 L1628.9,935.0 L1631.0,935.0 L1633.2,935.2 L1635.4,935.2 L1637.5,935.1 L1639.7,934.7 L1641.8,934.5 L1644.0,934.5 L1646.1,934.2 L1648.3,934.5 L1650.5,934.5 L1652.6,934.2 L1654.8,934.0 L1656.9,934.4 L1659.1,934.5 L1661.3,935.5 L1663.4,935.5 L1665.6,935.0 L1667.7,934.8 L1669.9,934.6 L1672.0,934.5 L1674.2,934.7 L1676.4,934.8 L1678.5,934.7 L1680.7,935.1 L1682.8,935.2 L1685.0,935.7 L1687.1,934.9 L1689.3,935.1 L1691.5,934.9 L1693.6,934.4 L1695.8,934.6 L1697.9,934.2 L1700.1,934.6 L1702.2,935.7 L1704.4,935.7 L1706.6,935.9 L1708.7,935.7 L1710.9,934.7 L1713.0,934.9 L1715.2,934.9 L1717.3,935.0 L1719.5,934.6 L1721.7,934.0 L1723.8,935.2 L1726.0,935.4 L1728.1,935.2 L1730.3,934.8 L1732.4,934.8 L1734.6,934.4 L1736.8,934.9 L1738.9,934.9 L1741.1,934.7 L1743.2,934.6 L1745.4,934.6 L1747.6,934.7 L1749.7,934.5 L1751.9,934.9 L1754.0,934.8 L1756.2,934.7 L1758.3,934.3 L1760.5,934.9 L1762.7,935.1 L1764.8,935.0 L1767.0,934.1 L1769.1,934.2 L1771.3,934.7 L1773.4,934.5 L1775.6,934.9 L1777.8,934.4 L1779.9,934.6 L1782.1,934.6 L1784.2,933.6 L1786.4,933.8 L1788.5,933.9 L1790.7,933.8 L1792.9,933.6 L1795.0,934.3 L1797.2,934.1 L1799.3,934.2 L1801.5,933.5 L1803.6,932.9 L1805.8,933.1 L1808.0,933.5 L1810.1,933.2 L1812.3,933.4 L1814.4,933.6 L1816.6,933.2 L1818.7,933.0 L1820.9,932.7 L1823.1,933.0 L1825.2,933.3 L1827.4,932.9 L1829.5,932.3 L1831.7,931.8 L1833.9,931.5 L1836.0,931.7 L1838.2,931.0 L1840.3,931.2 L1842.5,930.1 L1844.6,929.8 L1846.8,929.8 L1849.0,929.5 L1851.1,928.2 L1853.3,927.5 L1855.4,927.2 L1857.6,925.8 L1859.7,923.0 L1861.9,921.3 L1864.1,919.3 L1866.2,914.3 L1868.4,908.4 L1870.5,898.2 L1872.7,885.2 L1874.8,865.0 L1877.0,838.8 L1879.2,805.5 L1881.3,765.5 L1883.5,724.7 L1885.6,689.2 L1887.8,666.3 L1889.9,664.6 L1892.1,679.7 L1894.3,708.6 L1896.4,744.4 L1898.6,782.7 L1900.7,819.9 L1902.9,852.1 L1905.0,877.4 L1907.2,896.5 L1909.4,909.9 L1911.5,918.4 L1913.7,923.6 L1915.8,927.3 L1918.0,929.2 L1920.2,930.1 L1922.3,931.4 L1924.5,932.1 L1926.6,932.4 L1928.8,932.4 L1930.9,932.7 L1933.1,933.2 L1935.3,933.5 L1937.4,933.2 L1939.6,933.2 L1941.7,933.6 L1943.9,933.9 L1946.0,934.2 L1948.2,933.8 L1950.4,934.3 L1952.5,934.9 L1954.7,934.9 L1956.8,934.6 L1959.0,934.8 L1961.1,934.2 L1963.3,934.2 L1965.5,935.1 L1967.6,934.2 L1969.8,934.0 L1971.9,934.7 L1974.1,934.4 L1976.2,934.4 L1978.4,934.2 L1980.6,935.1 L1982.7,934.7 L1984.9,934.6 L1987.0,934.1 L1989.2,934.8 L1991.3,934.8 L1993.5,935.0 L1995.7,935.4 L1997.8,935.2 L2000.0,934.6 L2002.1,934.4 L2004.3,934.7 L2006.5,935.3 L2008.6,934.7 L2010.8,934.7 L2012.9,934.8 L2015.1,935.1 L2017.2,934.7 L2019.4,934.9 L2021.6,935.2 L2023.7,935.0 L2025.9,934.9 L2028.0,935.1 L2030.2,935.2 L2032.3,935.4 L2034.5,934.7 L2036.7,935.2 L2038.8,934.8 L2041.0,934.3 L2043.1,934.2 L2045.3,933.9 L2047.4,934.0 L2049.6,934.3 L2051.8,933.1 L2053.9,932.7 L2056.1,933.0 L2058.2,932.4 L2060.4,932.2 L2062.5,931.1 L2064.7,930.7 L2066.9,929.3 L2069.0,929.1 L2071.2,929.4 L2073.3,929.6 L2075.5,929.9 L2077.6,929.6 L2079.8,929.5 L2082.0,929.9 L2084.1,929.9 L2086.3,931.3 L2088.4,932.2 L2090.6,932.2 L2092.8,933.4 L2094.9,933.1 L2097.1,933.8 L2099.2,933.8 L2101.4,933.6 L2103.5,934.3 L2105.7,934.1 L2107.9,934.9 L2110.0,934.6 L2112.2,934.8 L2114.3,934.7 L2116.5,934.9 L2118.6,934.7 L2120.8,935.1 L2123.0,935.3 L2125.1,935.2 L2127.3,935.0 L2129.4,935.7 L2131.6,935.1 L2133.7,934.9 L2135.9,935.2 L2138.1,935.1 L2140.2,934.5 L2142.4,934.7 L2144.5,934.8 L2146.7,934.6 L2148.8,934.9 L2151.0,934.6 L2153.2,934.7 L2155.3,934.5 L2157.5,935.3 L2159.6,935.0 L2161.8,935.1 L2163.9,935.1 L2166.1,935.2 L2168.3,935.0 L2170.4,935.2 L2172.6,935.0 L2174.7,934.1 L2176.9,934.5 L2179.1,934.2 L2181.2,934.8 L2183.4,934.7 L2185.5,934.5 L2187.7,933.6 L2189.8,933.2 L2192.0,933.3 L2194.2,933.6 L2196.3,933.2 L2198.5,934.0 L2200.6,933.7 L2202.8,933.0 L2204.9,931.8 L2207.1,930.5 L2209.3,928.5 L2211.4,925.3 L2213.6,921.1 L2215.7,915.7 L2217.9,908.4 L2220.0,902.2 L2222.2,897.5 L2224.4,895.0 L2226.5,896.5 L2228.7,900.0 L2230.8,904.8 L2233.0,910.9 L2235.1,916.1 L2237.3,921.3 L2239.5,925.1 L2241.6,927.9 L2243.8,930.2 L2245.9,931.5 L2248.1,932.0 L2250.2,933.5 L2252.4,933.9 L2254.6,934.5 L2256.7,933.8 L2258.9,934.5 L2261.0,934.8 L2263.2,934.7 L2265.4,934.0 L2267.5,934.4 L2269.7,934.4 L2271.8,934.6 L2274.0,934.8 L2276.1,934.5 L2278.3,934.7 L2280.5,934.9 L2282.6,935.4 L2284.8,935.2 L2286.9,935.9 L2289.1,935.0 L2291.2,935.0 L2293.4,935.5 L2295.6,934.7 L2297.7,935.2 L2299.9,935.3 L2302.0,935.0 L2304.2,935.0 L2306.3,935.6 L2308.5,935.2 L2310.7,935.3"/>
</g>
<text class="tick" x="151.0" y="1728">20</text>
<text class="tick" x="690.4" y="1728">25</text>
<text class="tick" x="1229.8" y="1728">30</text>
<text class="tick" x="1769.1" y="1728">35</text>
<text class="tick" x="2308.5" y="1728">40</text>
<text class="ax"><tspan x="1170.5" y="1817" font-size="82">2</tspan><tspan x="1212.4" y="1818.3" font-size="85">θ</tspan><tspan x="1253.2" y="1825" font-size="92" font-weight="normal">°</tspan></text>
<text class="ax" font-size="81" transform="translate(83.3,1041.2) rotate(-90)">Intensity (a.u.)</text>
<text class="lab" transform="translate(166.1,887.8) scale(0.986,1)">Aldrich rutile</text>
<text class="lab" transform="translate(166.1,1057.2) scale(0.974,1)">Aeroxide P25</text>
<text class="lab" transform="translate(166.3,1181.7) scale(0.985,1)">Rutile-H2</text>
<text class="lab" transform="translate(170.8,1336.3) scale(0.982,1)"><tspan x="0" y="0">TiO</tspan><tspan x="134.3" y="27" font-size="48">2</tspan><tspan x="159.2" y="6.3">_</tspan><tspan x="199.5" y="0">HS</tspan><tspan x="307.8" y="6.3">_</tspan><tspan x="350.8" y="0">EtOH</tspan></text>
<text class="lab" transform="translate(170.2,1528.0) scale(0.982,1)"><tspan x="0" y="0">TiO</tspan><tspan x="134.9" y="27" font-size="48">2</tspan><tspan x="159.8" y="6.3">_</tspan><tspan x="200.2" y="0">HS</tspan><tspan x="308.4" y="6.3">_</tspan><tspan x="351.8" y="0">Ac</tspan></text>
<text class="pk" transform="translate(976.0,228.3) rotate(-90)">r(110)</text>
<text class="pk" transform="translate(1904.3,644.4) rotate(-90)">r(101)</text>
<text class="pk" transform="translate(740.2,875.3) rotate(-90)">a(101)</text>
<text class="pk" transform="translate(2007.0,913.7) rotate(-90)">a(103)</text>
<text class="pk" transform="translate(2088.8,913.7) rotate(-90)">a(004)</text>
<text class="pk" transform="translate(2166.2,909.4) rotate(-90)">a(112)</text>
<text class="pk" transform="translate(2243.1,860.3) rotate(-90)">r(200)</text>
</svg></body></html>
